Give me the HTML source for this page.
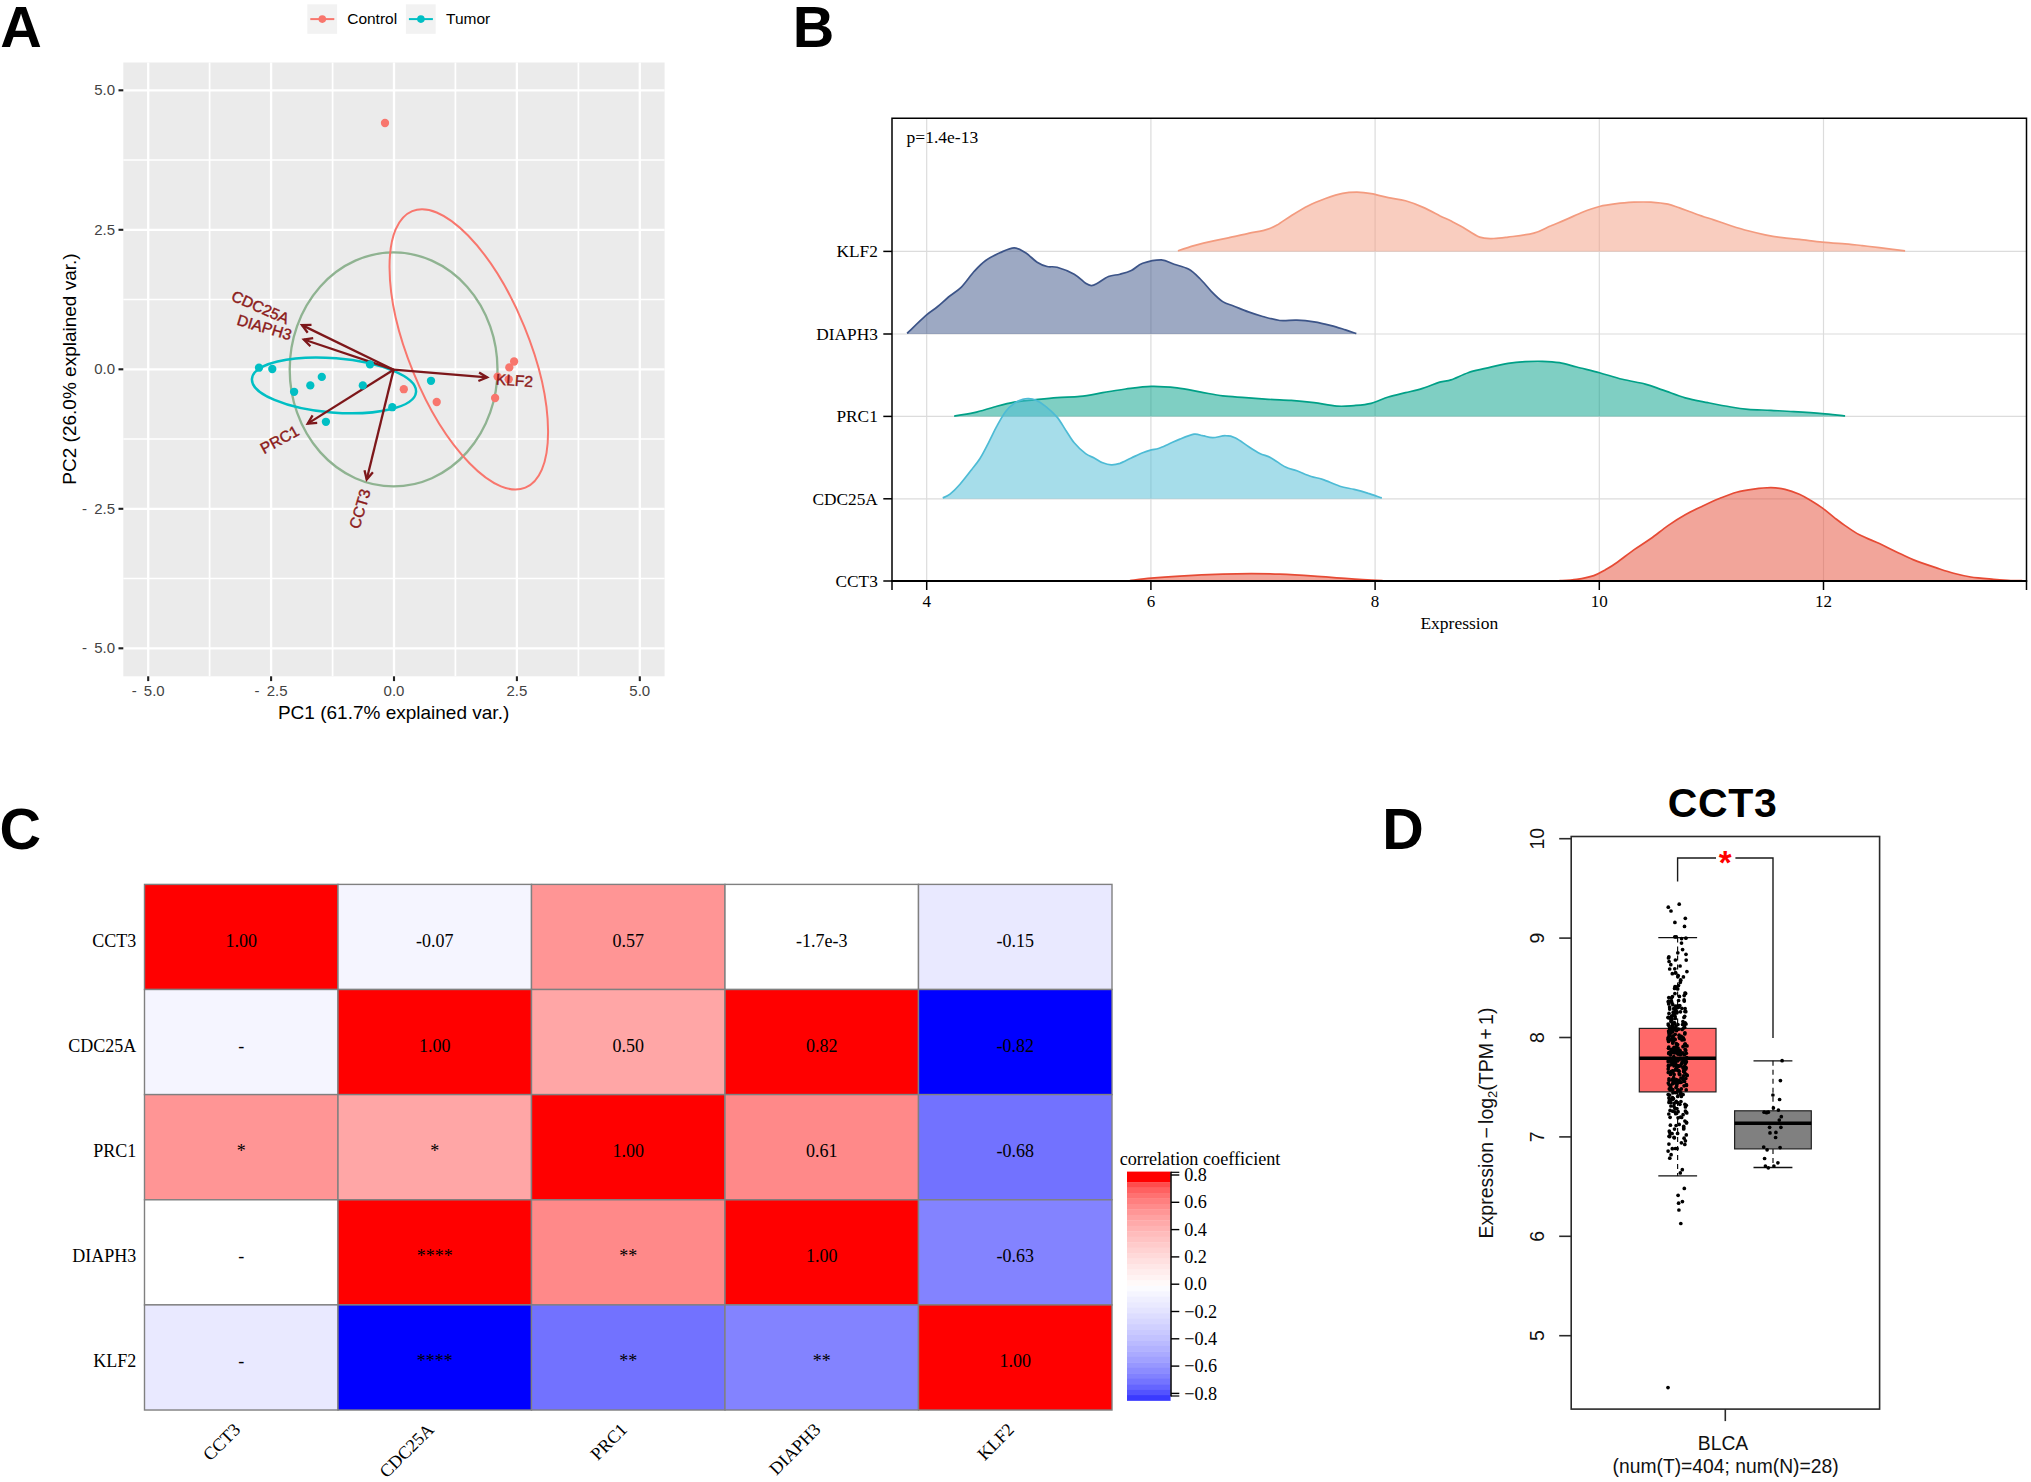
<!DOCTYPE html>
<html lang="en"><head><meta charset="utf-8"><title>Figure</title>
<style>html,body{margin:0;padding:0;background:#fff}svg{display:block}</style></head>
<body><svg width="2031" height="1482" viewBox="0 0 2031 1482">
<rect width="2031" height="1482" fill="#fff"/>
<rect x="123.3" y="62.5" width="541.3000000000001" height="613.8" fill="#ebebeb"/>
<line x1="209.6" y1="62.5" x2="209.6" y2="676.3" stroke="#fff" stroke-width="1.7"/>
<line x1="123.3" y1="160.1" x2="664.6" y2="160.1" stroke="#fff" stroke-width="1.5"/>
<line x1="332.6" y1="62.5" x2="332.6" y2="676.3" stroke="#fff" stroke-width="1.7"/>
<line x1="123.3" y1="299.6" x2="664.6" y2="299.6" stroke="#fff" stroke-width="1.5"/>
<line x1="455.4" y1="62.5" x2="455.4" y2="676.3" stroke="#fff" stroke-width="1.7"/>
<line x1="123.3" y1="439.1" x2="664.6" y2="439.1" stroke="#fff" stroke-width="1.5"/>
<line x1="578.4" y1="62.5" x2="578.4" y2="676.3" stroke="#fff" stroke-width="1.7"/>
<line x1="123.3" y1="578.5" x2="664.6" y2="578.5" stroke="#fff" stroke-width="1.5"/>
<line x1="148.2" y1="62.5" x2="148.2" y2="676.3" stroke="#fff" stroke-width="2.3"/>
<line x1="148.2" y1="676.3" x2="148.2" y2="681.0999999999999" stroke="#222" stroke-width="2.1"/>
<text x="148.2" y="696.3" text-anchor="middle" font-family='"Liberation Sans", Arial, sans-serif' font-size="15" fill="#434343">-  5.0</text>
<line x1="123.3" y1="648.3" x2="664.6" y2="648.3" stroke="#fff" stroke-width="2.3"/>
<line x1="118.5" y1="648.3" x2="123.3" y2="648.3" stroke="#222" stroke-width="2.1"/>
<text x="115" y="653.1" text-anchor="end" font-family='"Liberation Sans", Arial, sans-serif' font-size="15" fill="#434343">-  5.0</text>
<line x1="271.1" y1="62.5" x2="271.1" y2="676.3" stroke="#fff" stroke-width="2.3"/>
<line x1="271.1" y1="676.3" x2="271.1" y2="681.0999999999999" stroke="#222" stroke-width="2.1"/>
<text x="271.1" y="696.3" text-anchor="middle" font-family='"Liberation Sans", Arial, sans-serif' font-size="15" fill="#434343">-  2.5</text>
<line x1="123.3" y1="508.8" x2="664.6" y2="508.8" stroke="#fff" stroke-width="2.3"/>
<line x1="118.5" y1="508.8" x2="123.3" y2="508.8" stroke="#222" stroke-width="2.1"/>
<text x="115" y="513.6" text-anchor="end" font-family='"Liberation Sans", Arial, sans-serif' font-size="15" fill="#434343">-  2.5</text>
<line x1="394.0" y1="62.5" x2="394.0" y2="676.3" stroke="#fff" stroke-width="2.3"/>
<line x1="394.0" y1="676.3" x2="394.0" y2="681.0999999999999" stroke="#222" stroke-width="2.1"/>
<text x="394.0" y="696.3" text-anchor="middle" font-family='"Liberation Sans", Arial, sans-serif' font-size="15" fill="#434343">0.0</text>
<line x1="123.3" y1="369.3" x2="664.6" y2="369.3" stroke="#fff" stroke-width="2.3"/>
<line x1="118.5" y1="369.3" x2="123.3" y2="369.3" stroke="#222" stroke-width="2.1"/>
<text x="115" y="374.1" text-anchor="end" font-family='"Liberation Sans", Arial, sans-serif' font-size="15" fill="#434343">0.0</text>
<line x1="516.9" y1="62.5" x2="516.9" y2="676.3" stroke="#fff" stroke-width="2.3"/>
<line x1="516.9" y1="676.3" x2="516.9" y2="681.0999999999999" stroke="#222" stroke-width="2.1"/>
<text x="516.9" y="696.3" text-anchor="middle" font-family='"Liberation Sans", Arial, sans-serif' font-size="15" fill="#434343">2.5</text>
<line x1="123.3" y1="229.8" x2="664.6" y2="229.8" stroke="#fff" stroke-width="2.3"/>
<line x1="118.5" y1="229.8" x2="123.3" y2="229.8" stroke="#222" stroke-width="2.1"/>
<text x="115" y="234.6" text-anchor="end" font-family='"Liberation Sans", Arial, sans-serif' font-size="15" fill="#434343">2.5</text>
<line x1="639.8" y1="62.5" x2="639.8" y2="676.3" stroke="#fff" stroke-width="2.3"/>
<line x1="639.8" y1="676.3" x2="639.8" y2="681.0999999999999" stroke="#222" stroke-width="2.1"/>
<text x="639.8" y="696.3" text-anchor="middle" font-family='"Liberation Sans", Arial, sans-serif' font-size="15" fill="#434343">5.0</text>
<line x1="123.3" y1="90.3" x2="664.6" y2="90.3" stroke="#fff" stroke-width="2.3"/>
<line x1="118.5" y1="90.3" x2="123.3" y2="90.3" stroke="#222" stroke-width="2.1"/>
<text x="115" y="95.1" text-anchor="end" font-family='"Liberation Sans", Arial, sans-serif' font-size="15" fill="#434343">5.0</text>
<text x="393.6" y="718.5" text-anchor="middle" font-family='"Liberation Sans", Arial, sans-serif' font-size="19" fill="#000">PC1 (61.7% explained var.)</text>
<text transform="translate(76.4,369) rotate(-90)" text-anchor="middle" font-family='"Liberation Sans", Arial, sans-serif' font-size="19" fill="#000">PC2 (26.0% explained var.)</text>
<rect x="307.3" y="4.3" width="29.8" height="29.5" fill="#f2f2f2"/>
<line x1="310.3" y1="19.1" x2="334.3" y2="19.1" stroke="#F8766D" stroke-width="2"/>
<circle cx="322.3" cy="19.1" r="3.8" fill="#F8766D"/>
<text x="347.2" y="24.1" font-family='"Liberation Sans", Arial, sans-serif' font-size="15.5" fill="#000">Control</text>
<rect x="405.9" y="4.3" width="29.8" height="29.5" fill="#f2f2f2"/>
<line x1="408.9" y1="19.1" x2="432.9" y2="19.1" stroke="#00BFC4" stroke-width="2"/>
<circle cx="420.9" cy="19.1" r="3.8" fill="#00BFC4"/>
<text x="446" y="24.1" font-family='"Liberation Sans", Arial, sans-serif' font-size="15.5" fill="#000">Tumor</text>
<ellipse cx="393.6" cy="369.4" rx="103.9" ry="117" fill="none" stroke="#8fb391" stroke-width="2.3"/>
<ellipse cx="468.8" cy="349.4" rx="149.4" ry="60" transform="rotate(67.75 468.8 349.4)" fill="none" stroke="#F8766D" stroke-width="2"/>
<ellipse cx="334" cy="385.4" rx="82.3" ry="27.2" transform="rotate(4.6 334 385.4)" fill="none" stroke="#00BFC4" stroke-width="2.5"/>
<line x1="393.6" y1="369.7" x2="302" y2="325.1" stroke="#7d171a" stroke-width="2.3"/>
<polyline points="311.5,324.9 302,325.1 307.7,332.7" fill="none" stroke="#7d171a" stroke-width="2.3" stroke-linejoin="miter"/>
<line x1="393.6" y1="369.7" x2="303.8" y2="339.5" stroke="#7d171a" stroke-width="2.3"/>
<polyline points="313.2,338.1 303.8,339.5 310.4,346.3" fill="none" stroke="#7d171a" stroke-width="2.3" stroke-linejoin="miter"/>
<line x1="393.6" y1="369.7" x2="487.2" y2="377.4" stroke="#7d171a" stroke-width="2.3"/>
<polyline points="478.4,381.0 487.2,377.4 479.1,372.4" fill="none" stroke="#7d171a" stroke-width="2.3" stroke-linejoin="miter"/>
<line x1="393.6" y1="369.7" x2="307.7" y2="423.6" stroke="#7d171a" stroke-width="2.3"/>
<polyline points="312.6,415.4 307.7,423.6 317.2,422.8" fill="none" stroke="#7d171a" stroke-width="2.3" stroke-linejoin="miter"/>
<line x1="393.6" y1="369.7" x2="366.7" y2="479.5" stroke="#7d171a" stroke-width="2.3"/>
<polyline points="364.5,470.3 366.7,479.5 372.9,472.3" fill="none" stroke="#7d171a" stroke-width="2.3" stroke-linejoin="miter"/>
<circle cx="259" cy="367.7" r="4.15" fill="#00BFC4"/>
<circle cx="272.3" cy="369" r="4.15" fill="#00BFC4"/>
<circle cx="321.8" cy="376.9" r="4.15" fill="#00BFC4"/>
<circle cx="310.3" cy="385.4" r="4.15" fill="#00BFC4"/>
<circle cx="294.1" cy="391.8" r="4.15" fill="#00BFC4"/>
<circle cx="370" cy="364.4" r="4.15" fill="#00BFC4"/>
<circle cx="362.8" cy="385.4" r="4.15" fill="#00BFC4"/>
<circle cx="392.3" cy="407.2" r="4.15" fill="#00BFC4"/>
<circle cx="325.9" cy="421.8" r="4.15" fill="#00BFC4"/>
<circle cx="431" cy="380.8" r="4.15" fill="#00BFC4"/>
<circle cx="403.8" cy="389.2" r="4.15" fill="#F8766D"/>
<circle cx="436.7" cy="402" r="4.15" fill="#F8766D"/>
<circle cx="495.1" cy="398" r="4.15" fill="#F8766D"/>
<circle cx="497.6" cy="376.6" r="4.15" fill="#F8766D"/>
<circle cx="508.7" cy="379.3" r="4.15" fill="#F8766D"/>
<circle cx="509.3" cy="367.4" r="4.15" fill="#F8766D"/>
<circle cx="514.1" cy="361.5" r="4.15" fill="#F8766D"/>
<circle cx="385" cy="123" r="4.15" fill="#F8766D"/>
<text transform="translate(230.2,300) rotate(23.6)" text-anchor="start" font-family='"Liberation Sans", Arial, sans-serif' font-size="15.5" fill="#8b1a1a" stroke="#8b1a1a" stroke-width="0.4">CDC25A</text>
<text transform="translate(236,324.5) rotate(16.5)" text-anchor="start" font-family='"Liberation Sans", Arial, sans-serif' font-size="15.5" fill="#8b1a1a" stroke="#8b1a1a" stroke-width="0.4">DIAPH3</text>
<text transform="translate(495.6,384.4) rotate(4.1)" text-anchor="start" font-family='"Liberation Sans", Arial, sans-serif' font-size="15.5" fill="#8b1a1a" stroke="#8b1a1a" stroke-width="0.4">KLF2</text>
<text transform="translate(264.1,454.2) rotate(-28.9)" text-anchor="start" font-family='"Liberation Sans", Arial, sans-serif' font-size="15.5" fill="#8b1a1a" stroke="#8b1a1a" stroke-width="0.4">PRC1</text>
<text transform="translate(359.3,529.8) rotate(-73.5)" text-anchor="start" font-family='"Liberation Sans", Arial, sans-serif' font-size="15.5" fill="#8b1a1a" stroke="#8b1a1a" stroke-width="0.4">CCT3</text>
<text x="0.2" y="47.4" font-family='"Liberation Sans", Arial, sans-serif' font-weight="700" font-size="57.5" fill="#000">A</text>
<rect x="892.0" y="118.3" width="1134.5" height="462.7" fill="#fff"/>
<line x1="926.7" y1="118.3" x2="926.7" y2="581.0" stroke="#dcdcdc" stroke-width="1.2"/>
<line x1="1150.9" y1="118.3" x2="1150.9" y2="581.0" stroke="#dcdcdc" stroke-width="1.2"/>
<line x1="1375.1" y1="118.3" x2="1375.1" y2="581.0" stroke="#dcdcdc" stroke-width="1.2"/>
<line x1="1599.3" y1="118.3" x2="1599.3" y2="581.0" stroke="#dcdcdc" stroke-width="1.2"/>
<line x1="1823.5" y1="118.3" x2="1823.5" y2="581.0" stroke="#dcdcdc" stroke-width="1.2"/>
<line x1="892.0" y1="251.4" x2="2026.5" y2="251.4" stroke="#dcdcdc" stroke-width="1.2"/>
<line x1="892.0" y1="334.0" x2="2026.5" y2="334.0" stroke="#dcdcdc" stroke-width="1.2"/>
<line x1="892.0" y1="416.4" x2="2026.5" y2="416.4" stroke="#dcdcdc" stroke-width="1.2"/>
<line x1="892.0" y1="498.8" x2="2026.5" y2="498.8" stroke="#dcdcdc" stroke-width="1.2"/>
<path d="M1177.9,250.8 C1180.6,249.9 1188.6,247.2 1194.1,245.6 C1199.7,244.1 1205.6,242.6 1211.3,241.4 C1217.0,240.1 1222.2,239.3 1228.4,237.9 C1234.6,236.6 1242.2,234.7 1248.4,233.4 C1254.6,232.0 1260.8,231.3 1265.5,229.9 C1270.3,228.6 1272.7,227.5 1277.0,225.1 C1281.2,222.7 1286.0,218.9 1291.2,215.7 C1296.5,212.4 1302.7,208.5 1308.4,205.7 C1314.1,202.8 1319.8,200.6 1325.5,198.5 C1331.2,196.5 1337.4,194.4 1342.6,193.4 C1347.9,192.3 1352.2,192.2 1356.9,192.2 C1361.7,192.3 1366.0,192.8 1371.2,193.7 C1376.4,194.6 1382.6,196.5 1388.3,197.7 C1394.0,198.9 1399.7,199.2 1405.5,200.8 C1411.2,202.4 1416.9,204.6 1422.6,207.1 C1428.3,209.6 1435.0,213.3 1439.7,215.7 C1444.5,218.0 1447.4,219.2 1451.2,221.1 C1454.9,223.0 1457.7,224.4 1462.4,227.1 C1467.2,229.7 1474.3,235.2 1479.6,237.1 C1484.8,239.0 1489.1,238.5 1493.8,238.5 C1498.6,238.5 1501.5,238.0 1508.1,237.1 C1514.8,236.2 1526.7,235.0 1533.8,233.1 C1541.0,231.2 1545.7,227.8 1551.0,225.7 C1556.2,223.5 1560.0,222.2 1565.2,219.9 C1570.5,217.7 1576.7,214.5 1582.4,212.2 C1588.1,210.0 1593.8,207.9 1599.5,206.5 C1605.2,205.1 1610.9,204.4 1616.6,203.7 C1622.3,202.9 1628.1,202.5 1633.8,202.2 C1639.5,202.0 1645.2,201.9 1650.9,202.2 C1656.6,202.6 1663.3,203.3 1668.0,204.2 C1672.8,205.2 1674.7,206.3 1679.5,207.9 C1684.2,209.6 1690.9,212.2 1696.6,214.2 C1702.3,216.2 1708.0,218.0 1713.7,219.9 C1719.4,221.8 1725.2,223.8 1730.9,225.7 C1736.6,227.5 1742.3,229.3 1748.0,230.8 C1753.7,232.3 1759.4,233.6 1765.1,234.8 C1770.8,235.9 1776.6,236.9 1782.3,237.6 C1788.0,238.4 1792.7,238.6 1799.4,239.4 C1806.1,240.1 1814.6,241.5 1822.2,242.2 C1829.9,243.0 1838.4,243.4 1845.1,243.9 C1851.8,244.5 1856.5,245.0 1862.2,245.6 C1867.9,246.3 1872.2,246.8 1879.4,247.6 C1886.5,248.5 1900.8,250.3 1905.1,250.8 L1905.1,251.4 L1177.9,251.4 Z" fill="#F39B7F" fill-opacity="0.5" stroke="none"/>
<path d="M1177.9,250.8 C1180.6,249.9 1188.6,247.2 1194.1,245.6 C1199.7,244.1 1205.6,242.6 1211.3,241.4 C1217.0,240.1 1222.2,239.3 1228.4,237.9 C1234.6,236.6 1242.2,234.7 1248.4,233.4 C1254.6,232.0 1260.8,231.3 1265.5,229.9 C1270.3,228.6 1272.7,227.5 1277.0,225.1 C1281.2,222.7 1286.0,218.9 1291.2,215.7 C1296.5,212.4 1302.7,208.5 1308.4,205.7 C1314.1,202.8 1319.8,200.6 1325.5,198.5 C1331.2,196.5 1337.4,194.4 1342.6,193.4 C1347.9,192.3 1352.2,192.2 1356.9,192.2 C1361.7,192.3 1366.0,192.8 1371.2,193.7 C1376.4,194.6 1382.6,196.5 1388.3,197.7 C1394.0,198.9 1399.7,199.2 1405.5,200.8 C1411.2,202.4 1416.9,204.6 1422.6,207.1 C1428.3,209.6 1435.0,213.3 1439.7,215.7 C1444.5,218.0 1447.4,219.2 1451.2,221.1 C1454.9,223.0 1457.7,224.4 1462.4,227.1 C1467.2,229.7 1474.3,235.2 1479.6,237.1 C1484.8,239.0 1489.1,238.5 1493.8,238.5 C1498.6,238.5 1501.5,238.0 1508.1,237.1 C1514.8,236.2 1526.7,235.0 1533.8,233.1 C1541.0,231.2 1545.7,227.8 1551.0,225.7 C1556.2,223.5 1560.0,222.2 1565.2,219.9 C1570.5,217.7 1576.7,214.5 1582.4,212.2 C1588.1,210.0 1593.8,207.9 1599.5,206.5 C1605.2,205.1 1610.9,204.4 1616.6,203.7 C1622.3,202.9 1628.1,202.5 1633.8,202.2 C1639.5,202.0 1645.2,201.9 1650.9,202.2 C1656.6,202.6 1663.3,203.3 1668.0,204.2 C1672.8,205.2 1674.7,206.3 1679.5,207.9 C1684.2,209.6 1690.9,212.2 1696.6,214.2 C1702.3,216.2 1708.0,218.0 1713.7,219.9 C1719.4,221.8 1725.2,223.8 1730.9,225.7 C1736.6,227.5 1742.3,229.3 1748.0,230.8 C1753.7,232.3 1759.4,233.6 1765.1,234.8 C1770.8,235.9 1776.6,236.9 1782.3,237.6 C1788.0,238.4 1792.7,238.6 1799.4,239.4 C1806.1,240.1 1814.6,241.5 1822.2,242.2 C1829.9,243.0 1838.4,243.4 1845.1,243.9 C1851.8,244.5 1856.5,245.0 1862.2,245.6 C1867.9,246.3 1872.2,246.8 1879.4,247.6 C1886.5,248.5 1900.8,250.3 1905.1,250.8" fill="none" stroke="#F39B7F" stroke-width="1.7"/>
<path d="M907.1,333.3 C910.2,330.4 920.7,320.0 925.7,315.6 C930.7,311.2 933.3,310.1 937.1,307.0 C940.9,303.9 944.5,300.4 948.5,297.0 C952.6,293.7 957.1,291.3 961.4,287.1 C965.7,282.8 970.2,275.8 974.2,271.3 C978.3,266.9 981.4,263.6 985.7,260.5 C989.9,257.4 995.2,254.9 999.9,252.8 C1004.7,250.7 1009.9,247.9 1014.2,247.9 C1018.5,247.9 1021.8,250.4 1025.6,252.8 C1029.5,255.2 1033.5,259.9 1037.1,262.2 C1040.6,264.5 1043.7,265.6 1047.1,266.5 C1050.4,267.3 1052.5,266.1 1057.1,267.3 C1061.6,268.6 1069.4,271.5 1074.2,274.2 C1079.0,276.9 1082.8,281.4 1085.6,283.3 C1088.5,285.2 1089.4,285.6 1091.3,285.6 C1093.2,285.7 1094.2,285.1 1097.0,283.6 C1099.9,282.1 1104.7,278.1 1108.5,276.5 C1112.3,274.9 1116.1,275.2 1119.9,274.2 C1123.7,273.2 1127.5,272.3 1131.3,270.5 C1135.1,268.7 1137.7,265.1 1142.7,263.3 C1147.7,261.6 1156.1,259.8 1161.3,259.9 C1166.5,260.1 1169.6,262.7 1174.1,264.2 C1178.7,265.7 1184.1,266.7 1188.4,269.1 C1192.7,271.4 1196.0,274.8 1199.8,278.5 C1203.7,282.2 1207.5,287.5 1211.3,291.3 C1215.1,295.2 1218.9,299.1 1222.7,301.6 C1226.5,304.1 1229.8,304.5 1234.1,306.2 C1238.4,307.9 1243.6,310.2 1248.4,311.9 C1253.2,313.6 1257.4,315.0 1262.7,316.5 C1267.9,317.9 1274.1,319.8 1279.8,320.5 C1285.5,321.1 1291.2,319.9 1296.9,320.2 C1302.7,320.4 1308.4,321.0 1314.1,321.9 C1319.8,322.8 1326.0,324.3 1331.2,325.6 C1336.4,326.9 1341.3,328.6 1345.5,329.9 C1349.7,331.2 1354.5,333.0 1356.3,333.6 L1356.3,334.0 L907.1,334.0 Z" fill="#3C5488" fill-opacity="0.5" stroke="none"/>
<path d="M907.1,333.3 C910.2,330.4 920.7,320.0 925.7,315.6 C930.7,311.2 933.3,310.1 937.1,307.0 C940.9,303.9 944.5,300.4 948.5,297.0 C952.6,293.7 957.1,291.3 961.4,287.1 C965.7,282.8 970.2,275.8 974.2,271.3 C978.3,266.9 981.4,263.6 985.7,260.5 C989.9,257.4 995.2,254.9 999.9,252.8 C1004.7,250.7 1009.9,247.9 1014.2,247.9 C1018.5,247.9 1021.8,250.4 1025.6,252.8 C1029.5,255.2 1033.5,259.9 1037.1,262.2 C1040.6,264.5 1043.7,265.6 1047.1,266.5 C1050.4,267.3 1052.5,266.1 1057.1,267.3 C1061.6,268.6 1069.4,271.5 1074.2,274.2 C1079.0,276.9 1082.8,281.4 1085.6,283.3 C1088.5,285.2 1089.4,285.6 1091.3,285.6 C1093.2,285.7 1094.2,285.1 1097.0,283.6 C1099.9,282.1 1104.7,278.1 1108.5,276.5 C1112.3,274.9 1116.1,275.2 1119.9,274.2 C1123.7,273.2 1127.5,272.3 1131.3,270.5 C1135.1,268.7 1137.7,265.1 1142.7,263.3 C1147.7,261.6 1156.1,259.8 1161.3,259.9 C1166.5,260.1 1169.6,262.7 1174.1,264.2 C1178.7,265.7 1184.1,266.7 1188.4,269.1 C1192.7,271.4 1196.0,274.8 1199.8,278.5 C1203.7,282.2 1207.5,287.5 1211.3,291.3 C1215.1,295.2 1218.9,299.1 1222.7,301.6 C1226.5,304.1 1229.8,304.5 1234.1,306.2 C1238.4,307.9 1243.6,310.2 1248.4,311.9 C1253.2,313.6 1257.4,315.0 1262.7,316.5 C1267.9,317.9 1274.1,319.8 1279.8,320.5 C1285.5,321.1 1291.2,319.9 1296.9,320.2 C1302.7,320.4 1308.4,321.0 1314.1,321.9 C1319.8,322.8 1326.0,324.3 1331.2,325.6 C1336.4,326.9 1341.3,328.6 1345.5,329.9 C1349.7,331.2 1354.5,333.0 1356.3,333.6" fill="none" stroke="#3C5488" stroke-width="1.7"/>
<path d="M954.2,416.1 C957.6,415.6 967.6,414.2 974.2,412.7 C980.9,411.2 987.6,408.8 994.2,407.0 C1000.9,405.2 1007.6,403.3 1014.2,402.1 C1020.9,400.9 1027.1,400.6 1034.2,399.9 C1041.4,399.1 1049.4,398.1 1057.1,397.6 C1064.7,397.0 1072.3,397.2 1079.9,396.4 C1087.5,395.6 1095.1,394.0 1102.7,392.7 C1110.4,391.5 1117.5,390.0 1125.6,389.0 C1133.7,388.0 1142.7,386.6 1151.3,386.4 C1159.9,386.2 1168.9,387.0 1177.0,387.9 C1185.1,388.8 1192.2,390.5 1199.8,391.9 C1207.5,393.2 1215.1,394.9 1222.7,395.9 C1230.3,396.8 1237.9,397.0 1245.5,397.6 C1253.2,398.1 1260.8,398.8 1268.4,399.3 C1276.0,399.8 1283.6,399.9 1291.2,400.4 C1298.8,401.0 1306.5,401.8 1314.1,402.7 C1321.7,403.7 1330.3,405.7 1336.9,406.1 C1343.6,406.6 1348.3,406.0 1354.1,405.6 C1359.8,405.1 1365.5,404.7 1371.2,403.3 C1376.9,401.9 1382.6,398.8 1388.3,397.0 C1394.0,395.2 1399.7,394.1 1405.5,392.7 C1411.2,391.3 1416.9,390.2 1422.6,388.4 C1428.3,386.7 1435.0,383.6 1439.7,382.1 C1444.5,380.7 1446.3,381.4 1451.0,379.9 C1455.7,378.3 1462.4,374.6 1468.1,372.7 C1473.8,370.8 1478.6,370.0 1485.3,368.4 C1491.9,366.9 1501.5,364.4 1508.1,363.3 C1514.8,362.2 1519.5,361.9 1525.2,361.6 C1531.0,361.3 1536.7,361.1 1542.4,361.3 C1548.1,361.5 1553.8,361.8 1559.5,362.7 C1565.2,363.7 1570.0,365.3 1576.7,367.0 C1583.3,368.7 1591.9,370.7 1599.5,372.7 C1607.1,374.8 1614.7,377.4 1622.3,379.3 C1630.0,381.2 1638.5,382.4 1645.2,384.1 C1651.9,385.9 1655.7,387.6 1662.3,389.9 C1669.0,392.1 1677.6,395.7 1685.2,397.9 C1692.8,400.0 1700.4,401.2 1708.0,402.7 C1715.6,404.2 1724.2,405.9 1730.9,407.0 C1737.5,408.1 1741.3,408.7 1748.0,409.3 C1754.7,409.8 1763.2,410.0 1770.8,410.4 C1778.5,410.8 1785.1,411.0 1793.7,411.6 C1802.3,412.1 1813.7,412.8 1822.2,413.6 C1830.8,414.3 1841.3,415.5 1845.1,415.8 L1845.1,416.4 L954.2,416.4 Z" fill="#00A087" fill-opacity="0.5" stroke="none"/>
<path d="M954.2,416.1 C957.6,415.6 967.6,414.2 974.2,412.7 C980.9,411.2 987.6,408.8 994.2,407.0 C1000.9,405.2 1007.6,403.3 1014.2,402.1 C1020.9,400.9 1027.1,400.6 1034.2,399.9 C1041.4,399.1 1049.4,398.1 1057.1,397.6 C1064.7,397.0 1072.3,397.2 1079.9,396.4 C1087.5,395.6 1095.1,394.0 1102.7,392.7 C1110.4,391.5 1117.5,390.0 1125.6,389.0 C1133.7,388.0 1142.7,386.6 1151.3,386.4 C1159.9,386.2 1168.9,387.0 1177.0,387.9 C1185.1,388.8 1192.2,390.5 1199.8,391.9 C1207.5,393.2 1215.1,394.9 1222.7,395.9 C1230.3,396.8 1237.9,397.0 1245.5,397.6 C1253.2,398.1 1260.8,398.8 1268.4,399.3 C1276.0,399.8 1283.6,399.9 1291.2,400.4 C1298.8,401.0 1306.5,401.8 1314.1,402.7 C1321.7,403.7 1330.3,405.7 1336.9,406.1 C1343.6,406.6 1348.3,406.0 1354.1,405.6 C1359.8,405.1 1365.5,404.7 1371.2,403.3 C1376.9,401.9 1382.6,398.8 1388.3,397.0 C1394.0,395.2 1399.7,394.1 1405.5,392.7 C1411.2,391.3 1416.9,390.2 1422.6,388.4 C1428.3,386.7 1435.0,383.6 1439.7,382.1 C1444.5,380.7 1446.3,381.4 1451.0,379.9 C1455.7,378.3 1462.4,374.6 1468.1,372.7 C1473.8,370.8 1478.6,370.0 1485.3,368.4 C1491.9,366.9 1501.5,364.4 1508.1,363.3 C1514.8,362.2 1519.5,361.9 1525.2,361.6 C1531.0,361.3 1536.7,361.1 1542.4,361.3 C1548.1,361.5 1553.8,361.8 1559.5,362.7 C1565.2,363.7 1570.0,365.3 1576.7,367.0 C1583.3,368.7 1591.9,370.7 1599.5,372.7 C1607.1,374.8 1614.7,377.4 1622.3,379.3 C1630.0,381.2 1638.5,382.4 1645.2,384.1 C1651.9,385.9 1655.7,387.6 1662.3,389.9 C1669.0,392.1 1677.6,395.7 1685.2,397.9 C1692.8,400.0 1700.4,401.2 1708.0,402.7 C1715.6,404.2 1724.2,405.9 1730.9,407.0 C1737.5,408.1 1741.3,408.7 1748.0,409.3 C1754.7,409.8 1763.2,410.0 1770.8,410.4 C1778.5,410.8 1785.1,411.0 1793.7,411.6 C1802.3,412.1 1813.7,412.8 1822.2,413.6 C1830.8,414.3 1841.3,415.5 1845.1,415.8" fill="none" stroke="#00A087" stroke-width="1.7"/>
<path d="M942.8,497.9 C944.0,497.3 947.1,496.5 950.0,494.2 C952.8,491.9 956.4,488.3 960.0,484.2 C963.5,480.2 968.1,474.2 971.4,469.9 C974.7,465.7 977.1,463.0 980.0,458.5 C982.8,454.0 985.7,448.3 988.5,442.8 C991.4,437.3 994.2,430.9 997.1,425.7 C999.9,420.4 1002.8,415.1 1005.7,411.4 C1008.5,407.7 1011.4,405.4 1014.2,403.4 C1017.1,401.4 1020.4,400.2 1022.8,399.4 C1025.2,398.6 1026.4,398.4 1028.5,398.5 C1030.6,398.6 1032.8,398.7 1035.6,400.0 C1038.5,401.3 1042.1,403.4 1045.6,406.3 C1049.2,409.1 1053.7,413.2 1057.1,417.1 C1060.4,421.1 1062.8,425.7 1065.6,430.0 C1068.5,434.2 1070.9,438.9 1074.2,442.8 C1077.5,446.8 1082.3,451.1 1085.6,453.7 C1088.9,456.2 1091.3,456.4 1094.2,457.9 C1097.0,459.5 1099.9,461.7 1102.7,462.8 C1105.6,463.9 1108.5,464.7 1111.3,464.8 C1114.2,464.9 1116.6,464.5 1119.9,463.4 C1123.2,462.2 1127.5,459.7 1131.3,457.9 C1135.1,456.2 1139.4,454.1 1142.7,452.8 C1146.1,451.5 1148.7,450.7 1151.3,449.9 C1153.9,449.2 1155.6,449.5 1158.4,448.5 C1161.3,447.6 1164.9,445.8 1168.4,444.2 C1172.0,442.7 1175.6,440.8 1179.9,439.1 C1184.1,437.4 1190.3,434.8 1194.1,434.2 C1197.9,433.7 1199.6,435.1 1202.7,435.7 C1205.8,436.2 1208.9,437.7 1212.7,437.7 C1216.5,437.7 1221.7,435.6 1225.5,435.7 C1229.4,435.7 1231.7,436.1 1235.5,438.0 C1239.3,439.8 1244.3,443.9 1248.4,446.5 C1252.4,449.1 1256.0,451.5 1259.8,453.4 C1263.6,455.3 1267.0,455.7 1271.2,457.9 C1275.5,460.2 1281.2,464.9 1285.5,467.1 C1289.8,469.2 1292.7,469.2 1296.9,470.8 C1301.2,472.4 1306.9,475.1 1311.2,476.5 C1315.5,477.9 1317.9,477.7 1322.6,479.4 C1327.4,481.0 1334.5,484.5 1339.8,486.2 C1345.0,487.9 1349.3,488.2 1354.1,489.4 C1358.8,490.5 1363.7,491.9 1368.3,493.4 C1373.0,494.8 1379.5,497.2 1381.8,497.9 L1381.8,498.8 L942.8,498.8 Z" fill="#4DBBD5" fill-opacity="0.5" stroke="none"/>
<path d="M942.8,497.9 C944.0,497.3 947.1,496.5 950.0,494.2 C952.8,491.9 956.4,488.3 960.0,484.2 C963.5,480.2 968.1,474.2 971.4,469.9 C974.7,465.7 977.1,463.0 980.0,458.5 C982.8,454.0 985.7,448.3 988.5,442.8 C991.4,437.3 994.2,430.9 997.1,425.7 C999.9,420.4 1002.8,415.1 1005.7,411.4 C1008.5,407.7 1011.4,405.4 1014.2,403.4 C1017.1,401.4 1020.4,400.2 1022.8,399.4 C1025.2,398.6 1026.4,398.4 1028.5,398.5 C1030.6,398.6 1032.8,398.7 1035.6,400.0 C1038.5,401.3 1042.1,403.4 1045.6,406.3 C1049.2,409.1 1053.7,413.2 1057.1,417.1 C1060.4,421.1 1062.8,425.7 1065.6,430.0 C1068.5,434.2 1070.9,438.9 1074.2,442.8 C1077.5,446.8 1082.3,451.1 1085.6,453.7 C1088.9,456.2 1091.3,456.4 1094.2,457.9 C1097.0,459.5 1099.9,461.7 1102.7,462.8 C1105.6,463.9 1108.5,464.7 1111.3,464.8 C1114.2,464.9 1116.6,464.5 1119.9,463.4 C1123.2,462.2 1127.5,459.7 1131.3,457.9 C1135.1,456.2 1139.4,454.1 1142.7,452.8 C1146.1,451.5 1148.7,450.7 1151.3,449.9 C1153.9,449.2 1155.6,449.5 1158.4,448.5 C1161.3,447.6 1164.9,445.8 1168.4,444.2 C1172.0,442.7 1175.6,440.8 1179.9,439.1 C1184.1,437.4 1190.3,434.8 1194.1,434.2 C1197.9,433.7 1199.6,435.1 1202.7,435.7 C1205.8,436.2 1208.9,437.7 1212.7,437.7 C1216.5,437.7 1221.7,435.6 1225.5,435.7 C1229.4,435.7 1231.7,436.1 1235.5,438.0 C1239.3,439.8 1244.3,443.9 1248.4,446.5 C1252.4,449.1 1256.0,451.5 1259.8,453.4 C1263.6,455.3 1267.0,455.7 1271.2,457.9 C1275.5,460.2 1281.2,464.9 1285.5,467.1 C1289.8,469.2 1292.7,469.2 1296.9,470.8 C1301.2,472.4 1306.9,475.1 1311.2,476.5 C1315.5,477.9 1317.9,477.7 1322.6,479.4 C1327.4,481.0 1334.5,484.5 1339.8,486.2 C1345.0,487.9 1349.3,488.2 1354.1,489.4 C1358.8,490.5 1363.7,491.9 1368.3,493.4 C1373.0,494.8 1379.5,497.2 1381.8,497.9" fill="none" stroke="#4DBBD5" stroke-width="1.7"/>
<path d="M1129.9,580.7 C1133.4,580.3 1143.0,578.9 1151.3,578.2 C1159.6,577.4 1168.0,576.8 1179.9,576.2 C1191.8,575.5 1210.8,574.6 1222.7,574.2 C1234.6,573.7 1241.7,573.6 1251.2,573.6 C1260.8,573.6 1269.3,573.7 1279.8,574.2 C1290.3,574.6 1302.7,575.4 1314.1,576.2 C1325.5,576.9 1336.9,578.0 1348.3,578.7 C1359.8,579.5 1376.9,580.4 1382.6,580.7 L1382.6,581.0 L1129.9,581.0 Z" fill="#E64B35" fill-opacity="0.5" stroke="none"/>
<path d="M1129.9,580.7 C1133.4,580.3 1143.0,578.9 1151.3,578.2 C1159.6,577.4 1168.0,576.8 1179.9,576.2 C1191.8,575.5 1210.8,574.6 1222.7,574.2 C1234.6,573.7 1241.7,573.6 1251.2,573.6 C1260.8,573.6 1269.3,573.7 1279.8,574.2 C1290.3,574.6 1302.7,575.4 1314.1,576.2 C1325.5,576.9 1336.9,578.0 1348.3,578.7 C1359.8,579.5 1376.9,580.4 1382.6,580.7" fill="none" stroke="#E64B35" stroke-width="1.7"/>
<path d="M1559.5,580.7 C1562.4,580.5 1570.9,580.2 1576.7,579.3 C1582.4,578.5 1589.0,577.2 1593.8,575.6 C1598.5,574.0 1601.4,572.0 1605.2,569.9 C1609.0,567.7 1611.9,566.1 1616.6,562.7 C1621.4,559.4 1628.1,553.9 1633.8,549.9 C1639.5,545.9 1645.2,542.5 1650.9,538.5 C1656.6,534.4 1662.3,529.6 1668.0,525.6 C1673.7,521.7 1679.5,518.0 1685.2,514.8 C1690.9,511.5 1696.6,508.9 1702.3,506.2 C1708.0,503.5 1713.7,500.8 1719.4,498.5 C1725.2,496.2 1730.9,493.8 1736.6,492.2 C1742.3,490.6 1748.0,489.8 1753.7,489.1 C1759.4,488.3 1765.6,487.6 1770.8,487.6 C1776.1,487.7 1780.4,488.3 1785.1,489.4 C1789.9,490.5 1795.1,492.4 1799.4,494.2 C1803.7,496.1 1807.0,498.2 1810.8,500.5 C1814.6,502.8 1818.4,505.2 1822.2,507.9 C1826.1,510.7 1829.9,514.1 1833.7,517.1 C1837.5,520.0 1840.8,522.7 1845.1,525.6 C1849.4,528.6 1853.7,531.8 1859.4,534.8 C1865.1,537.8 1873.2,540.8 1879.4,543.6 C1885.6,546.5 1890.8,549.2 1896.5,551.9 C1902.2,554.6 1907.0,557.2 1913.6,559.9 C1920.3,562.6 1929.8,565.7 1936.5,567.9 C1943.1,570.1 1947.9,571.8 1953.6,573.3 C1959.3,574.8 1964.1,576.0 1970.7,577.0 C1977.4,578.0 1986.9,578.7 1993.6,579.3 C2000.3,579.9 2006.0,580.2 2010.7,580.5 C2015.5,580.7 2020.2,580.7 2022.2,580.7 L2022.2,581.0 L1559.5,581.0 Z" fill="#E64B35" fill-opacity="0.5" stroke="none"/>
<path d="M1559.5,580.7 C1562.4,580.5 1570.9,580.2 1576.7,579.3 C1582.4,578.5 1589.0,577.2 1593.8,575.6 C1598.5,574.0 1601.4,572.0 1605.2,569.9 C1609.0,567.7 1611.9,566.1 1616.6,562.7 C1621.4,559.4 1628.1,553.9 1633.8,549.9 C1639.5,545.9 1645.2,542.5 1650.9,538.5 C1656.6,534.4 1662.3,529.6 1668.0,525.6 C1673.7,521.7 1679.5,518.0 1685.2,514.8 C1690.9,511.5 1696.6,508.9 1702.3,506.2 C1708.0,503.5 1713.7,500.8 1719.4,498.5 C1725.2,496.2 1730.9,493.8 1736.6,492.2 C1742.3,490.6 1748.0,489.8 1753.7,489.1 C1759.4,488.3 1765.6,487.6 1770.8,487.6 C1776.1,487.7 1780.4,488.3 1785.1,489.4 C1789.9,490.5 1795.1,492.4 1799.4,494.2 C1803.7,496.1 1807.0,498.2 1810.8,500.5 C1814.6,502.8 1818.4,505.2 1822.2,507.9 C1826.1,510.7 1829.9,514.1 1833.7,517.1 C1837.5,520.0 1840.8,522.7 1845.1,525.6 C1849.4,528.6 1853.7,531.8 1859.4,534.8 C1865.1,537.8 1873.2,540.8 1879.4,543.6 C1885.6,546.5 1890.8,549.2 1896.5,551.9 C1902.2,554.6 1907.0,557.2 1913.6,559.9 C1920.3,562.6 1929.8,565.7 1936.5,567.9 C1943.1,570.1 1947.9,571.8 1953.6,573.3 C1959.3,574.8 1964.1,576.0 1970.7,577.0 C1977.4,578.0 1986.9,578.7 1993.6,579.3 C2000.3,579.9 2006.0,580.2 2010.7,580.5 C2015.5,580.7 2020.2,580.7 2022.2,580.7" fill="none" stroke="#E64B35" stroke-width="1.7"/>
<path d="M892.0,581.0 L892.0,118.3 L2026.5,118.3 L2026.5,581.0" fill="none" stroke="#000" stroke-width="1.5"/>
<line x1="891.3" y1="581.0" x2="2027.2" y2="581.0" stroke="#000" stroke-width="2.2"/>
<line x1="892.0" y1="581.0" x2="892.0" y2="590.0" stroke="#000" stroke-width="1.5"/>
<line x1="926.7" y1="581.0" x2="926.7" y2="590.0" stroke="#000" stroke-width="1.5"/>
<line x1="1150.9" y1="581.0" x2="1150.9" y2="590.0" stroke="#000" stroke-width="1.5"/>
<line x1="1375.1" y1="581.0" x2="1375.1" y2="590.0" stroke="#000" stroke-width="1.5"/>
<line x1="1599.3" y1="581.0" x2="1599.3" y2="590.0" stroke="#000" stroke-width="1.5"/>
<line x1="1823.5" y1="581.0" x2="1823.5" y2="590.0" stroke="#000" stroke-width="1.5"/>
<line x1="2026.5" y1="581.0" x2="2026.5" y2="590.0" stroke="#000" stroke-width="1.5"/>
<text x="926.7" y="607" text-anchor="middle" font-family='"Liberation Serif", "Times New Roman", serif' font-size="17" fill="#000">4</text>
<text x="1150.9" y="607" text-anchor="middle" font-family='"Liberation Serif", "Times New Roman", serif' font-size="17" fill="#000">6</text>
<text x="1375.1" y="607" text-anchor="middle" font-family='"Liberation Serif", "Times New Roman", serif' font-size="17" fill="#000">8</text>
<text x="1599.3" y="607" text-anchor="middle" font-family='"Liberation Serif", "Times New Roman", serif' font-size="17" fill="#000">10</text>
<text x="1823.5" y="607" text-anchor="middle" font-family='"Liberation Serif", "Times New Roman", serif' font-size="17" fill="#000">12</text>
<line x1="883.3" y1="251.4" x2="892.0" y2="251.4" stroke="#000" stroke-width="1.5"/>
<text x="877.8" y="257.2" text-anchor="end" font-family='"Liberation Serif", "Times New Roman", serif' font-size="17.3" fill="#000">KLF2</text>
<line x1="883.3" y1="334.0" x2="892.0" y2="334.0" stroke="#000" stroke-width="1.5"/>
<text x="877.8" y="339.8" text-anchor="end" font-family='"Liberation Serif", "Times New Roman", serif' font-size="17.3" fill="#000">DIAPH3</text>
<line x1="883.3" y1="416.4" x2="892.0" y2="416.4" stroke="#000" stroke-width="1.5"/>
<text x="877.8" y="422.2" text-anchor="end" font-family='"Liberation Serif", "Times New Roman", serif' font-size="17.3" fill="#000">PRC1</text>
<line x1="883.3" y1="498.8" x2="892.0" y2="498.8" stroke="#000" stroke-width="1.5"/>
<text x="877.8" y="504.6" text-anchor="end" font-family='"Liberation Serif", "Times New Roman", serif' font-size="17.3" fill="#000">CDC25A</text>
<line x1="883.3" y1="581.0" x2="892.0" y2="581.0" stroke="#000" stroke-width="1.5"/>
<text x="877.8" y="586.8" text-anchor="end" font-family='"Liberation Serif", "Times New Roman", serif' font-size="17.3" fill="#000">CCT3</text>
<text x="1459.3" y="629" text-anchor="middle" font-family='"Liberation Serif", "Times New Roman", serif' font-size="17.5" fill="#000">Expression</text>
<text x="906.6" y="143.4" font-family='"Liberation Serif", "Times New Roman", serif' font-size="17.5" fill="#000">p=1.4e-13</text>
<text x="792.7" y="47.4" font-family='"Liberation Sans", Arial, sans-serif' font-weight="700" font-size="57.5" fill="#000">B</text>
<rect x="144.5" y="884.4" width="193.5" height="105.12" fill="#ff0000" stroke="#808080" stroke-width="1.4"/>
<rect x="338.0" y="884.4" width="193.5" height="105.12" fill="#f5f5ff" stroke="#808080" stroke-width="1.4"/>
<rect x="531.5" y="884.4" width="193.5" height="105.12" fill="#ff9595" stroke="#808080" stroke-width="1.4"/>
<rect x="725.0" y="884.4" width="193.5" height="105.12" fill="#ffffff" stroke="#808080" stroke-width="1.4"/>
<rect x="918.5" y="884.4" width="193.5" height="105.12" fill="#e9e9ff" stroke="#808080" stroke-width="1.4"/>
<rect x="144.5" y="989.5" width="193.5" height="105.12" fill="#f5f5ff" stroke="#808080" stroke-width="1.4"/>
<rect x="338.0" y="989.5" width="193.5" height="105.12" fill="#ff0000" stroke="#808080" stroke-width="1.4"/>
<rect x="531.5" y="989.5" width="193.5" height="105.12" fill="#ffa6a6" stroke="#808080" stroke-width="1.4"/>
<rect x="725.0" y="989.5" width="193.5" height="105.12" fill="#ff0000" stroke="#808080" stroke-width="1.4"/>
<rect x="918.5" y="989.5" width="193.5" height="105.12" fill="#0000ff" stroke="#808080" stroke-width="1.4"/>
<rect x="144.5" y="1094.6" width="193.5" height="105.12" fill="#ff9595" stroke="#808080" stroke-width="1.4"/>
<rect x="338.0" y="1094.6" width="193.5" height="105.12" fill="#ffa6a6" stroke="#808080" stroke-width="1.4"/>
<rect x="531.5" y="1094.6" width="193.5" height="105.12" fill="#ff0000" stroke="#808080" stroke-width="1.4"/>
<rect x="725.0" y="1094.6" width="193.5" height="105.12" fill="#ff8989" stroke="#808080" stroke-width="1.4"/>
<rect x="918.5" y="1094.6" width="193.5" height="105.12" fill="#7272ff" stroke="#808080" stroke-width="1.4"/>
<rect x="144.5" y="1199.8" width="193.5" height="105.12" fill="#ffffff" stroke="#808080" stroke-width="1.4"/>
<rect x="338.0" y="1199.8" width="193.5" height="105.12" fill="#ff0000" stroke="#808080" stroke-width="1.4"/>
<rect x="531.5" y="1199.8" width="193.5" height="105.12" fill="#ff8989" stroke="#808080" stroke-width="1.4"/>
<rect x="725.0" y="1199.8" width="193.5" height="105.12" fill="#ff0000" stroke="#808080" stroke-width="1.4"/>
<rect x="918.5" y="1199.8" width="193.5" height="105.12" fill="#8383ff" stroke="#808080" stroke-width="1.4"/>
<rect x="144.5" y="1304.9" width="193.5" height="105.12" fill="#e9e9ff" stroke="#808080" stroke-width="1.4"/>
<rect x="338.0" y="1304.9" width="193.5" height="105.12" fill="#0000ff" stroke="#808080" stroke-width="1.4"/>
<rect x="531.5" y="1304.9" width="193.5" height="105.12" fill="#7272ff" stroke="#808080" stroke-width="1.4"/>
<rect x="725.0" y="1304.9" width="193.5" height="105.12" fill="#8383ff" stroke="#808080" stroke-width="1.4"/>
<rect x="918.5" y="1304.9" width="193.5" height="105.12" fill="#ff0000" stroke="#808080" stroke-width="1.4"/>
<text x="241.2" y="947.0" text-anchor="middle" font-family='"Liberation Serif", "Times New Roman", serif' font-size="18" fill="#000">1.00</text>
<text x="434.8" y="947.0" text-anchor="middle" font-family='"Liberation Serif", "Times New Roman", serif' font-size="18" fill="#000">-0.07</text>
<text x="628.2" y="947.0" text-anchor="middle" font-family='"Liberation Serif", "Times New Roman", serif' font-size="18" fill="#000">0.57</text>
<text x="821.8" y="947.0" text-anchor="middle" font-family='"Liberation Serif", "Times New Roman", serif' font-size="18" fill="#000">-1.7e-3</text>
<text x="1015.2" y="947.0" text-anchor="middle" font-family='"Liberation Serif", "Times New Roman", serif' font-size="18" fill="#000">-0.15</text>
<text x="241.2" y="1052.1" text-anchor="middle" font-family='"Liberation Serif", "Times New Roman", serif' font-size="18" fill="#000">-</text>
<text x="434.8" y="1052.1" text-anchor="middle" font-family='"Liberation Serif", "Times New Roman", serif' font-size="18" fill="#000">1.00</text>
<text x="628.2" y="1052.1" text-anchor="middle" font-family='"Liberation Serif", "Times New Roman", serif' font-size="18" fill="#000">0.50</text>
<text x="821.8" y="1052.1" text-anchor="middle" font-family='"Liberation Serif", "Times New Roman", serif' font-size="18" fill="#000">0.82</text>
<text x="1015.2" y="1052.1" text-anchor="middle" font-family='"Liberation Serif", "Times New Roman", serif' font-size="18" fill="#000">-0.82</text>
<text x="241.2" y="1157.2" text-anchor="middle" font-family='"Liberation Serif", "Times New Roman", serif' font-size="18" fill="#000">*</text>
<text x="434.8" y="1157.2" text-anchor="middle" font-family='"Liberation Serif", "Times New Roman", serif' font-size="18" fill="#000">*</text>
<text x="628.2" y="1157.2" text-anchor="middle" font-family='"Liberation Serif", "Times New Roman", serif' font-size="18" fill="#000">1.00</text>
<text x="821.8" y="1157.2" text-anchor="middle" font-family='"Liberation Serif", "Times New Roman", serif' font-size="18" fill="#000">0.61</text>
<text x="1015.2" y="1157.2" text-anchor="middle" font-family='"Liberation Serif", "Times New Roman", serif' font-size="18" fill="#000">-0.68</text>
<text x="241.2" y="1262.3" text-anchor="middle" font-family='"Liberation Serif", "Times New Roman", serif' font-size="18" fill="#000">-</text>
<text x="434.8" y="1262.3" text-anchor="middle" font-family='"Liberation Serif", "Times New Roman", serif' font-size="18" fill="#000">****</text>
<text x="628.2" y="1262.3" text-anchor="middle" font-family='"Liberation Serif", "Times New Roman", serif' font-size="18" fill="#000">**</text>
<text x="821.8" y="1262.3" text-anchor="middle" font-family='"Liberation Serif", "Times New Roman", serif' font-size="18" fill="#000">1.00</text>
<text x="1015.2" y="1262.3" text-anchor="middle" font-family='"Liberation Serif", "Times New Roman", serif' font-size="18" fill="#000">-0.63</text>
<text x="241.2" y="1367.4" text-anchor="middle" font-family='"Liberation Serif", "Times New Roman", serif' font-size="18" fill="#000">-</text>
<text x="434.8" y="1367.4" text-anchor="middle" font-family='"Liberation Serif", "Times New Roman", serif' font-size="18" fill="#000">****</text>
<text x="628.2" y="1367.4" text-anchor="middle" font-family='"Liberation Serif", "Times New Roman", serif' font-size="18" fill="#000">**</text>
<text x="821.8" y="1367.4" text-anchor="middle" font-family='"Liberation Serif", "Times New Roman", serif' font-size="18" fill="#000">**</text>
<text x="1015.2" y="1367.4" text-anchor="middle" font-family='"Liberation Serif", "Times New Roman", serif' font-size="18" fill="#000">1.00</text>
<text x="136.3" y="946.9" text-anchor="end" font-family='"Liberation Serif", "Times New Roman", serif' font-size="18" fill="#000">CCT3</text>
<text transform="translate(237.1,1426.5) rotate(-45)" text-anchor="end" font-family='"Liberation Serif", "Times New Roman", serif' font-size="18" fill="#000" dy="6">CCT3</text>
<text x="136.3" y="1052.0" text-anchor="end" font-family='"Liberation Serif", "Times New Roman", serif' font-size="18" fill="#000">CDC25A</text>
<text transform="translate(430.6,1426.5) rotate(-45)" text-anchor="end" font-family='"Liberation Serif", "Times New Roman", serif' font-size="18" fill="#000" dy="6">CDC25A</text>
<text x="136.3" y="1157.1" text-anchor="end" font-family='"Liberation Serif", "Times New Roman", serif' font-size="18" fill="#000">PRC1</text>
<text transform="translate(624.0,1426.5) rotate(-45)" text-anchor="end" font-family='"Liberation Serif", "Times New Roman", serif' font-size="18" fill="#000" dy="6">PRC1</text>
<text x="136.3" y="1262.2" text-anchor="end" font-family='"Liberation Serif", "Times New Roman", serif' font-size="18" fill="#000">DIAPH3</text>
<text transform="translate(817.5,1426.5) rotate(-45)" text-anchor="end" font-family='"Liberation Serif", "Times New Roman", serif' font-size="18" fill="#000" dy="6">DIAPH3</text>
<text x="136.3" y="1367.3" text-anchor="end" font-family='"Liberation Serif", "Times New Roman", serif' font-size="18" fill="#000">KLF2</text>
<text transform="translate(1011.0,1426.5) rotate(-45)" text-anchor="end" font-family='"Liberation Serif", "Times New Roman", serif' font-size="18" fill="#000" dy="6">KLF2</text>
<rect x="1127.0" y="1171.6" width="43.59999999999991" height="10.8" fill="#ff0000"/>
<rect x="1127.0" y="1182.10" width="43.59999999999991" height="5.81" fill="#ff4c4c"/>
<rect x="1127.0" y="1187.56" width="43.59999999999991" height="5.81" fill="#ff6161"/>
<rect x="1127.0" y="1193.02" width="43.59999999999991" height="5.81" fill="#ff7171"/>
<rect x="1127.0" y="1198.48" width="43.59999999999991" height="5.81" fill="#ff7f7f"/>
<rect x="1127.0" y="1203.94" width="43.59999999999991" height="5.81" fill="#ff8b8b"/>
<rect x="1127.0" y="1209.40" width="43.59999999999991" height="5.81" fill="#ff9696"/>
<rect x="1127.0" y="1214.86" width="43.59999999999991" height="5.81" fill="#ffa1a1"/>
<rect x="1127.0" y="1220.32" width="43.59999999999991" height="5.81" fill="#ffaaaa"/>
<rect x="1127.0" y="1225.78" width="43.59999999999991" height="5.81" fill="#ffb3b3"/>
<rect x="1127.0" y="1231.24" width="43.59999999999991" height="5.81" fill="#ffbcbc"/>
<rect x="1127.0" y="1236.70" width="43.59999999999991" height="5.81" fill="#ffc3c3"/>
<rect x="1127.0" y="1242.16" width="43.59999999999991" height="5.81" fill="#ffcbcb"/>
<rect x="1127.0" y="1247.62" width="43.59999999999991" height="5.81" fill="#ffd2d2"/>
<rect x="1127.0" y="1253.08" width="43.59999999999991" height="5.81" fill="#ffd9d9"/>
<rect x="1127.0" y="1258.54" width="43.59999999999991" height="5.81" fill="#ffe0e0"/>
<rect x="1127.0" y="1264.00" width="43.59999999999991" height="5.81" fill="#ffe7e7"/>
<rect x="1127.0" y="1269.46" width="43.59999999999991" height="5.81" fill="#ffeded"/>
<rect x="1127.0" y="1274.92" width="43.59999999999991" height="5.81" fill="#fff3f3"/>
<rect x="1127.0" y="1280.38" width="43.59999999999991" height="5.81" fill="#fff9f9"/>
<rect x="1127.0" y="1285.84" width="43.59999999999991" height="5.81" fill="#fbfbff"/>
<rect x="1127.0" y="1291.30" width="43.59999999999991" height="5.81" fill="#f5f5ff"/>
<rect x="1127.0" y="1296.76" width="43.59999999999991" height="5.81" fill="#efefff"/>
<rect x="1127.0" y="1302.22" width="43.59999999999991" height="5.81" fill="#eaeaff"/>
<rect x="1127.0" y="1307.68" width="43.59999999999991" height="5.81" fill="#e4e4ff"/>
<rect x="1127.0" y="1313.14" width="43.59999999999991" height="5.81" fill="#ddddff"/>
<rect x="1127.0" y="1318.60" width="43.59999999999991" height="5.81" fill="#d7d7ff"/>
<rect x="1127.0" y="1324.06" width="43.59999999999991" height="5.81" fill="#d0d0ff"/>
<rect x="1127.0" y="1329.52" width="43.59999999999991" height="5.81" fill="#c9c9ff"/>
<rect x="1127.0" y="1334.98" width="43.59999999999991" height="5.81" fill="#c2c2ff"/>
<rect x="1127.0" y="1340.44" width="43.59999999999991" height="5.81" fill="#babaff"/>
<rect x="1127.0" y="1345.90" width="43.59999999999991" height="5.81" fill="#b2b2ff"/>
<rect x="1127.0" y="1351.36" width="43.59999999999991" height="5.81" fill="#aaaaff"/>
<rect x="1127.0" y="1356.82" width="43.59999999999991" height="5.81" fill="#a1a1ff"/>
<rect x="1127.0" y="1362.28" width="43.59999999999991" height="5.81" fill="#9797ff"/>
<rect x="1127.0" y="1367.74" width="43.59999999999991" height="5.81" fill="#8c8cff"/>
<rect x="1127.0" y="1373.20" width="43.59999999999991" height="5.81" fill="#8181ff"/>
<rect x="1127.0" y="1378.66" width="43.59999999999991" height="5.81" fill="#7474ff"/>
<rect x="1127.0" y="1384.12" width="43.59999999999991" height="5.81" fill="#6565ff"/>
<rect x="1127.0" y="1389.58" width="43.59999999999991" height="5.81" fill="#5353ff"/>
<rect x="1127.0" y="1395.04" width="43.59999999999991" height="5.81" fill="#3a3aff"/>
<line x1="1171" y1="1171.8" x2="1171" y2="1396.5" stroke="#000" stroke-width="1.5"/>
<line x1="1171" y1="1175.0" x2="1179.3" y2="1175.0" stroke="#000" stroke-width="1.4"/>
<text x="1184.2" y="1181.1" font-family='"Liberation Serif", "Times New Roman", serif' font-size="18.2" fill="#000">0.8</text>
<line x1="1171" y1="1202.3" x2="1179.3" y2="1202.3" stroke="#000" stroke-width="1.4"/>
<text x="1184.2" y="1208.4" font-family='"Liberation Serif", "Times New Roman", serif' font-size="18.2" fill="#000">0.6</text>
<line x1="1171" y1="1229.6" x2="1179.3" y2="1229.6" stroke="#000" stroke-width="1.4"/>
<text x="1184.2" y="1235.7" font-family='"Liberation Serif", "Times New Roman", serif' font-size="18.2" fill="#000">0.4</text>
<line x1="1171" y1="1256.9" x2="1179.3" y2="1256.9" stroke="#000" stroke-width="1.4"/>
<text x="1184.2" y="1263.0" font-family='"Liberation Serif", "Times New Roman", serif' font-size="18.2" fill="#000">0.2</text>
<line x1="1171" y1="1284.2" x2="1179.3" y2="1284.2" stroke="#000" stroke-width="1.4"/>
<text x="1184.2" y="1290.3" font-family='"Liberation Serif", "Times New Roman", serif' font-size="18.2" fill="#000">0.0</text>
<line x1="1171" y1="1311.5" x2="1179.3" y2="1311.5" stroke="#000" stroke-width="1.4"/>
<text x="1184.2" y="1317.6" font-family='"Liberation Serif", "Times New Roman", serif' font-size="18.2" fill="#000">−0.2</text>
<line x1="1171" y1="1338.8" x2="1179.3" y2="1338.8" stroke="#000" stroke-width="1.4"/>
<text x="1184.2" y="1344.9" font-family='"Liberation Serif", "Times New Roman", serif' font-size="18.2" fill="#000">−0.4</text>
<line x1="1171" y1="1366.1" x2="1179.3" y2="1366.1" stroke="#000" stroke-width="1.4"/>
<text x="1184.2" y="1372.2" font-family='"Liberation Serif", "Times New Roman", serif' font-size="18.2" fill="#000">−0.6</text>
<line x1="1171" y1="1393.4" x2="1179.3" y2="1393.4" stroke="#000" stroke-width="1.4"/>
<text x="1184.2" y="1399.5" font-family='"Liberation Serif", "Times New Roman", serif' font-size="18.2" fill="#000">−0.8</text>
<line x1="1171" y1="1172.3" x2="1179.3" y2="1172.3" stroke="#000" stroke-width="1.2"/>
<line x1="1171" y1="1396" x2="1179.3" y2="1396" stroke="#000" stroke-width="1.2"/>
<text x="1119.7" y="1165" font-family='"Liberation Serif", "Times New Roman", serif' font-size="18.2" fill="#000">correlation coefficient</text>
<text x="-0.4" y="848.9" font-family='"Liberation Sans", Arial, sans-serif' font-weight="700" font-size="57.5" fill="#000">C</text>
<rect x="1571.2" y="836.5" width="308.39999999999986" height="572.5999999999999" fill="#fff" stroke="#2a2a2a" stroke-width="1.6"/>
<line x1="1559.2" y1="1335.7" x2="1571.2" y2="1335.7" stroke="#2a2a2a" stroke-width="1.6"/>
<text transform="translate(1544,1335.7) rotate(-90)" text-anchor="middle" font-family='"Liberation Sans", Arial, sans-serif' font-size="19.5" fill="#111">5</text>
<line x1="1559.2" y1="1236.3" x2="1571.2" y2="1236.3" stroke="#2a2a2a" stroke-width="1.6"/>
<text transform="translate(1544,1236.3) rotate(-90)" text-anchor="middle" font-family='"Liberation Sans", Arial, sans-serif' font-size="19.5" fill="#111">6</text>
<line x1="1559.2" y1="1136.9" x2="1571.2" y2="1136.9" stroke="#2a2a2a" stroke-width="1.6"/>
<text transform="translate(1544,1136.9) rotate(-90)" text-anchor="middle" font-family='"Liberation Sans", Arial, sans-serif' font-size="19.5" fill="#111">7</text>
<line x1="1559.2" y1="1037.5" x2="1571.2" y2="1037.5" stroke="#2a2a2a" stroke-width="1.6"/>
<text transform="translate(1544,1037.5) rotate(-90)" text-anchor="middle" font-family='"Liberation Sans", Arial, sans-serif' font-size="19.5" fill="#111">8</text>
<line x1="1559.2" y1="938.1" x2="1571.2" y2="938.1" stroke="#2a2a2a" stroke-width="1.6"/>
<text transform="translate(1544,938.1) rotate(-90)" text-anchor="middle" font-family='"Liberation Sans", Arial, sans-serif' font-size="19.5" fill="#111">9</text>
<line x1="1559.2" y1="838.7" x2="1571.2" y2="838.7" stroke="#2a2a2a" stroke-width="1.6"/>
<text transform="translate(1544,838.7) rotate(-90)" text-anchor="middle" font-family='"Liberation Sans", Arial, sans-serif' font-size="19.5" fill="#111">10</text>
<line x1="1559.2" y1="838.7" x2="1559.2" y2="1335.7" stroke="#222" stroke-width="0"/>
<line x1="1725.3" y1="1409.1" x2="1725.3" y2="1421.1" stroke="#2a2a2a" stroke-width="1.6"/>
<text x="1722.6" y="817.2" text-anchor="middle" font-family='"Liberation Sans", Arial, sans-serif' font-weight="700" font-size="41" letter-spacing="0.6" fill="#000">CCT3</text>
<text x="1723" y="1450.2" text-anchor="middle" font-family='"Liberation Sans", Arial, sans-serif' font-size="19.3" fill="#111">BLCA</text>
<text x="1725.6" y="1473.4" text-anchor="middle" font-family='"Liberation Sans", Arial, sans-serif' font-size="19.3" fill="#111">(num(T)=404; num(N)=28)</text>
<text transform="translate(1493.2,1123) rotate(-90)" text-anchor="middle" font-family='"Liberation Sans", Arial, sans-serif' font-size="19.5" word-spacing="-2.1" fill="#111">Expression − log<tspan font-size="13" dy="4">2</tspan><tspan dy="-4">(TPM + 1)</tspan></text>
<line x1="1677.6" y1="937.6" x2="1677.6" y2="1028.4" stroke="#111" stroke-width="1.2" stroke-dasharray="5,4"/>
<line x1="1677.6" y1="1091.9" x2="1677.6" y2="1175.9" stroke="#111" stroke-width="1.2" stroke-dasharray="5,4"/>
<line x1="1658.3" y1="937.6" x2="1697.1" y2="937.6" stroke="#111" stroke-width="1.3"/>
<line x1="1658.3" y1="1175.9" x2="1697.1" y2="1175.9" stroke="#111" stroke-width="1.3"/>
<rect x="1639.3" y="1028.4" width="76.7" height="63.5" fill="#ff6969" stroke="#222" stroke-width="1.2"/>
<line x1="1639.3" y1="1058.2" x2="1716" y2="1058.2" stroke="#000" stroke-width="3.6"/>
<line x1="1773.0" y1="1060.8" x2="1773.0" y2="1110.8" stroke="#111" stroke-width="1.2" stroke-dasharray="5,4"/>
<line x1="1773.0" y1="1148.9" x2="1773.0" y2="1167.5" stroke="#111" stroke-width="1.2" stroke-dasharray="5,4"/>
<line x1="1753.5" y1="1060.8" x2="1792.4" y2="1060.8" stroke="#111" stroke-width="1.3"/>
<line x1="1753.5" y1="1167.5" x2="1792.4" y2="1167.5" stroke="#111" stroke-width="1.3"/>
<rect x="1734.6" y="1110.8" width="76.7" height="38.1" fill="#808080" stroke="#222" stroke-width="1.2"/>
<line x1="1734.6" y1="1123.2" x2="1811.3" y2="1123.2" stroke="#000" stroke-width="3.6"/>
<path d="M1677.6,881.6 L1677.6,858 L1716,858 M1735.4,858 L1773,858 L1773,1038" fill="none" stroke="#1a1a1a" stroke-width="1.4"/>
<text x="1725.2" y="874" text-anchor="middle" font-family='"Liberation Sans", Arial, sans-serif' font-weight="700" font-size="33" fill="#ff0000">*</text>
<circle cx="1679.2" cy="904.2" r="1.85" fill="#000"/>
<circle cx="1668.3" cy="907.2" r="1.85" fill="#000"/>
<circle cx="1671.0" cy="911.0" r="1.85" fill="#000"/>
<circle cx="1685.3" cy="918.3" r="1.85" fill="#000"/>
<circle cx="1674.9" cy="922.4" r="1.85" fill="#000"/>
<circle cx="1684.5" cy="926.4" r="1.85" fill="#000"/>
<circle cx="1684.3" cy="1188.4" r="1.85" fill="#000"/>
<circle cx="1678.1" cy="1195.3" r="1.85" fill="#000"/>
<circle cx="1682.4" cy="1201.6" r="1.85" fill="#000"/>
<circle cx="1678.6" cy="1203.2" r="1.85" fill="#000"/>
<circle cx="1678.9" cy="1210.0" r="1.85" fill="#000"/>
<circle cx="1680.8" cy="1223.5" r="1.85" fill="#000"/>
<circle cx="1668.0" cy="1387.6" r="1.85" fill="#000"/>
<circle cx="1669.5" cy="1028.1" r="1.85" fill="#000"/>
<circle cx="1675.0" cy="1016.2" r="1.85" fill="#000"/>
<circle cx="1676.3" cy="1068.3" r="1.85" fill="#000"/>
<circle cx="1669.8" cy="1058.8" r="1.85" fill="#000"/>
<circle cx="1672.3" cy="1049.8" r="1.85" fill="#000"/>
<circle cx="1686.1" cy="1074.7" r="1.85" fill="#000"/>
<circle cx="1669.0" cy="1136.3" r="1.85" fill="#000"/>
<circle cx="1674.0" cy="1047.3" r="1.85" fill="#000"/>
<circle cx="1671.5" cy="1018.9" r="1.85" fill="#000"/>
<circle cx="1678.5" cy="1080.6" r="1.85" fill="#000"/>
<circle cx="1669.2" cy="1084.8" r="1.85" fill="#000"/>
<circle cx="1674.1" cy="1074.4" r="1.85" fill="#000"/>
<circle cx="1676.7" cy="1092.6" r="1.85" fill="#000"/>
<circle cx="1672.7" cy="1043.1" r="1.85" fill="#000"/>
<circle cx="1678.1" cy="1111.7" r="1.85" fill="#000"/>
<circle cx="1686.7" cy="1057.7" r="1.85" fill="#000"/>
<circle cx="1676.0" cy="1087.6" r="1.85" fill="#000"/>
<circle cx="1668.8" cy="997.5" r="1.85" fill="#000"/>
<circle cx="1682.6" cy="1024.5" r="1.85" fill="#000"/>
<circle cx="1681.3" cy="1036.4" r="1.85" fill="#000"/>
<circle cx="1679.1" cy="1080.3" r="1.85" fill="#000"/>
<circle cx="1677.1" cy="1012.3" r="1.85" fill="#000"/>
<circle cx="1669.3" cy="1131.1" r="1.85" fill="#000"/>
<circle cx="1683.7" cy="1126.4" r="1.85" fill="#000"/>
<circle cx="1675.4" cy="1148.5" r="1.85" fill="#000"/>
<circle cx="1671.3" cy="1018.9" r="1.85" fill="#000"/>
<circle cx="1669.2" cy="1052.7" r="1.85" fill="#000"/>
<circle cx="1675.5" cy="1009.2" r="1.85" fill="#000"/>
<circle cx="1669.6" cy="1007.0" r="1.85" fill="#000"/>
<circle cx="1683.7" cy="1129.0" r="1.85" fill="#000"/>
<circle cx="1673.4" cy="1098.6" r="1.85" fill="#000"/>
<circle cx="1686.3" cy="1105.3" r="1.85" fill="#000"/>
<circle cx="1671.4" cy="1000.8" r="1.85" fill="#000"/>
<circle cx="1679.3" cy="1054.1" r="1.85" fill="#000"/>
<circle cx="1668.2" cy="1017.4" r="1.85" fill="#000"/>
<circle cx="1686.2" cy="1089.9" r="1.85" fill="#000"/>
<circle cx="1677.9" cy="1024.5" r="1.85" fill="#000"/>
<circle cx="1685.2" cy="1063.7" r="1.85" fill="#000"/>
<circle cx="1684.7" cy="1072.5" r="1.85" fill="#000"/>
<circle cx="1670.1" cy="1110.4" r="1.85" fill="#000"/>
<circle cx="1669.3" cy="1035.8" r="1.85" fill="#000"/>
<circle cx="1674.6" cy="1052.9" r="1.85" fill="#000"/>
<circle cx="1668.1" cy="1037.8" r="1.85" fill="#000"/>
<circle cx="1668.6" cy="1031.0" r="1.85" fill="#000"/>
<circle cx="1679.8" cy="1005.6" r="1.85" fill="#000"/>
<circle cx="1675.0" cy="1058.8" r="1.85" fill="#000"/>
<circle cx="1684.2" cy="1025.3" r="1.85" fill="#000"/>
<circle cx="1669.7" cy="1136.6" r="1.85" fill="#000"/>
<circle cx="1674.6" cy="1049.6" r="1.85" fill="#000"/>
<circle cx="1668.5" cy="1048.3" r="1.85" fill="#000"/>
<circle cx="1678.1" cy="1089.9" r="1.85" fill="#000"/>
<circle cx="1678.1" cy="1066.4" r="1.85" fill="#000"/>
<circle cx="1684.5" cy="1054.3" r="1.85" fill="#000"/>
<circle cx="1671.3" cy="1060.8" r="1.85" fill="#000"/>
<circle cx="1678.2" cy="975.5" r="1.85" fill="#000"/>
<circle cx="1683.5" cy="1075.9" r="1.85" fill="#000"/>
<circle cx="1684.3" cy="1001.1" r="1.85" fill="#000"/>
<circle cx="1672.4" cy="996.5" r="1.85" fill="#000"/>
<circle cx="1674.9" cy="1111.8" r="1.85" fill="#000"/>
<circle cx="1673.0" cy="1029.8" r="1.85" fill="#000"/>
<circle cx="1686.3" cy="1053.3" r="1.85" fill="#000"/>
<circle cx="1686.2" cy="960.1" r="1.85" fill="#000"/>
<circle cx="1672.3" cy="1099.4" r="1.85" fill="#000"/>
<circle cx="1680.0" cy="1050.4" r="1.85" fill="#000"/>
<circle cx="1684.1" cy="999.9" r="1.85" fill="#000"/>
<circle cx="1669.7" cy="1095.1" r="1.85" fill="#000"/>
<circle cx="1685.4" cy="1111.0" r="1.85" fill="#000"/>
<circle cx="1671.5" cy="1049.3" r="1.85" fill="#000"/>
<circle cx="1674.4" cy="1137.8" r="1.85" fill="#000"/>
<circle cx="1675.7" cy="972.8" r="1.85" fill="#000"/>
<circle cx="1681.9" cy="1063.2" r="1.85" fill="#000"/>
<circle cx="1685.3" cy="1044.1" r="1.85" fill="#000"/>
<circle cx="1670.9" cy="1017.6" r="1.85" fill="#000"/>
<circle cx="1674.8" cy="936.8" r="1.85" fill="#000"/>
<circle cx="1670.6" cy="1064.8" r="1.85" fill="#000"/>
<circle cx="1678.1" cy="1007.4" r="1.85" fill="#000"/>
<circle cx="1676.3" cy="1069.9" r="1.85" fill="#000"/>
<circle cx="1672.9" cy="1024.8" r="1.85" fill="#000"/>
<circle cx="1672.7" cy="1080.2" r="1.85" fill="#000"/>
<circle cx="1670.6" cy="1060.6" r="1.85" fill="#000"/>
<circle cx="1674.8" cy="968.8" r="1.85" fill="#000"/>
<circle cx="1676.1" cy="1125.5" r="1.85" fill="#000"/>
<circle cx="1677.6" cy="1133.4" r="1.85" fill="#000"/>
<circle cx="1676.5" cy="1065.3" r="1.85" fill="#000"/>
<circle cx="1668.2" cy="1059.4" r="1.85" fill="#000"/>
<circle cx="1681.9" cy="1008.3" r="1.85" fill="#000"/>
<circle cx="1674.3" cy="1022.6" r="1.85" fill="#000"/>
<circle cx="1670.1" cy="1117.3" r="1.85" fill="#000"/>
<circle cx="1672.8" cy="1079.8" r="1.85" fill="#000"/>
<circle cx="1678.8" cy="1052.4" r="1.85" fill="#000"/>
<circle cx="1685.4" cy="1140.8" r="1.85" fill="#000"/>
<circle cx="1677.8" cy="1090.7" r="1.85" fill="#000"/>
<circle cx="1676.7" cy="1086.0" r="1.85" fill="#000"/>
<circle cx="1681.4" cy="1142.8" r="1.85" fill="#000"/>
<circle cx="1686.0" cy="1024.0" r="1.85" fill="#000"/>
<circle cx="1684.1" cy="1138.2" r="1.85" fill="#000"/>
<circle cx="1670.4" cy="1089.7" r="1.85" fill="#000"/>
<circle cx="1669.5" cy="1034.5" r="1.85" fill="#000"/>
<circle cx="1683.0" cy="1046.7" r="1.85" fill="#000"/>
<circle cx="1680.6" cy="979.9" r="1.85" fill="#000"/>
<circle cx="1684.9" cy="1011.5" r="1.85" fill="#000"/>
<circle cx="1675.7" cy="1013.1" r="1.85" fill="#000"/>
<circle cx="1686.9" cy="971.6" r="1.85" fill="#000"/>
<circle cx="1677.9" cy="1005.9" r="1.85" fill="#000"/>
<circle cx="1671.8" cy="1026.1" r="1.85" fill="#000"/>
<circle cx="1678.6" cy="1059.6" r="1.85" fill="#000"/>
<circle cx="1668.4" cy="1065.4" r="1.85" fill="#000"/>
<circle cx="1669.3" cy="1088.9" r="1.85" fill="#000"/>
<circle cx="1683.1" cy="1114.7" r="1.85" fill="#000"/>
<circle cx="1668.9" cy="1001.2" r="1.85" fill="#000"/>
<circle cx="1673.2" cy="1012.2" r="1.85" fill="#000"/>
<circle cx="1683.7" cy="1127.9" r="1.85" fill="#000"/>
<circle cx="1670.9" cy="1021.4" r="1.85" fill="#000"/>
<circle cx="1669.8" cy="1158.2" r="1.85" fill="#000"/>
<circle cx="1681.2" cy="1082.2" r="1.85" fill="#000"/>
<circle cx="1680.2" cy="982.5" r="1.85" fill="#000"/>
<circle cx="1669.7" cy="969.0" r="1.85" fill="#000"/>
<circle cx="1674.5" cy="1029.4" r="1.85" fill="#000"/>
<circle cx="1670.6" cy="1033.1" r="1.85" fill="#000"/>
<circle cx="1672.6" cy="1070.9" r="1.85" fill="#000"/>
<circle cx="1671.9" cy="1052.3" r="1.85" fill="#000"/>
<circle cx="1673.9" cy="1048.6" r="1.85" fill="#000"/>
<circle cx="1671.5" cy="1072.1" r="1.85" fill="#000"/>
<circle cx="1668.4" cy="1017.6" r="1.85" fill="#000"/>
<circle cx="1678.6" cy="1000.5" r="1.85" fill="#000"/>
<circle cx="1677.1" cy="1052.8" r="1.85" fill="#000"/>
<circle cx="1676.3" cy="936.9" r="1.85" fill="#000"/>
<circle cx="1684.0" cy="1017.4" r="1.85" fill="#000"/>
<circle cx="1686.8" cy="1112.9" r="1.85" fill="#000"/>
<circle cx="1683.9" cy="1060.7" r="1.85" fill="#000"/>
<circle cx="1674.7" cy="1082.3" r="1.85" fill="#000"/>
<circle cx="1670.6" cy="1085.9" r="1.85" fill="#000"/>
<circle cx="1671.2" cy="1059.9" r="1.85" fill="#000"/>
<circle cx="1684.1" cy="1085.8" r="1.85" fill="#000"/>
<circle cx="1672.7" cy="1079.6" r="1.85" fill="#000"/>
<circle cx="1676.8" cy="1083.9" r="1.85" fill="#000"/>
<circle cx="1686.4" cy="1084.7" r="1.85" fill="#000"/>
<circle cx="1678.5" cy="1029.2" r="1.85" fill="#000"/>
<circle cx="1674.9" cy="1028.3" r="1.85" fill="#000"/>
<circle cx="1675.4" cy="1065.0" r="1.85" fill="#000"/>
<circle cx="1677.7" cy="1082.3" r="1.85" fill="#000"/>
<circle cx="1673.1" cy="1058.8" r="1.85" fill="#000"/>
<circle cx="1668.5" cy="1066.8" r="1.85" fill="#000"/>
<circle cx="1672.5" cy="1052.2" r="1.85" fill="#000"/>
<circle cx="1680.6" cy="1117.0" r="1.85" fill="#000"/>
<circle cx="1684.8" cy="1069.2" r="1.85" fill="#000"/>
<circle cx="1670.9" cy="1106.0" r="1.85" fill="#000"/>
<circle cx="1685.0" cy="993.0" r="1.85" fill="#000"/>
<circle cx="1682.0" cy="1039.9" r="1.85" fill="#000"/>
<circle cx="1677.7" cy="988.9" r="1.85" fill="#000"/>
<circle cx="1683.4" cy="976.9" r="1.85" fill="#000"/>
<circle cx="1681.3" cy="1096.5" r="1.85" fill="#000"/>
<circle cx="1675.0" cy="1039.6" r="1.85" fill="#000"/>
<circle cx="1684.0" cy="1054.7" r="1.85" fill="#000"/>
<circle cx="1681.0" cy="1093.2" r="1.85" fill="#000"/>
<circle cx="1668.2" cy="1094.5" r="1.85" fill="#000"/>
<circle cx="1678.3" cy="1050.4" r="1.85" fill="#000"/>
<circle cx="1669.4" cy="1100.7" r="1.85" fill="#000"/>
<circle cx="1673.1" cy="1049.8" r="1.85" fill="#000"/>
<circle cx="1672.0" cy="1018.9" r="1.85" fill="#000"/>
<circle cx="1675.4" cy="960.0" r="1.85" fill="#000"/>
<circle cx="1681.1" cy="1064.7" r="1.85" fill="#000"/>
<circle cx="1669.6" cy="1132.0" r="1.85" fill="#000"/>
<circle cx="1672.9" cy="1092.8" r="1.85" fill="#000"/>
<circle cx="1668.3" cy="1083.1" r="1.85" fill="#000"/>
<circle cx="1673.2" cy="1014.7" r="1.85" fill="#000"/>
<circle cx="1673.6" cy="1077.5" r="1.85" fill="#000"/>
<circle cx="1676.9" cy="1108.6" r="1.85" fill="#000"/>
<circle cx="1671.9" cy="1002.7" r="1.85" fill="#000"/>
<circle cx="1685.9" cy="938.2" r="1.85" fill="#000"/>
<circle cx="1686.5" cy="1122.4" r="1.85" fill="#000"/>
<circle cx="1673.2" cy="1041.5" r="1.85" fill="#000"/>
<circle cx="1679.1" cy="1035.2" r="1.85" fill="#000"/>
<circle cx="1678.1" cy="1066.6" r="1.85" fill="#000"/>
<circle cx="1677.8" cy="952.8" r="1.85" fill="#000"/>
<circle cx="1681.5" cy="943.1" r="1.85" fill="#000"/>
<circle cx="1668.6" cy="1025.3" r="1.85" fill="#000"/>
<circle cx="1677.4" cy="1083.1" r="1.85" fill="#000"/>
<circle cx="1674.6" cy="1064.7" r="1.85" fill="#000"/>
<circle cx="1684.1" cy="1039.7" r="1.85" fill="#000"/>
<circle cx="1670.4" cy="1058.1" r="1.85" fill="#000"/>
<circle cx="1675.2" cy="1034.3" r="1.85" fill="#000"/>
<circle cx="1687.1" cy="1075.5" r="1.85" fill="#000"/>
<circle cx="1673.3" cy="1082.6" r="1.85" fill="#000"/>
<circle cx="1670.0" cy="1029.3" r="1.85" fill="#000"/>
<circle cx="1672.8" cy="1089.7" r="1.85" fill="#000"/>
<circle cx="1677.8" cy="976.7" r="1.85" fill="#000"/>
<circle cx="1684.9" cy="1121.0" r="1.85" fill="#000"/>
<circle cx="1678.5" cy="985.6" r="1.85" fill="#000"/>
<circle cx="1669.0" cy="1102.4" r="1.85" fill="#000"/>
<circle cx="1680.3" cy="1172.9" r="1.85" fill="#000"/>
<circle cx="1669.0" cy="1040.2" r="1.85" fill="#000"/>
<circle cx="1674.6" cy="988.4" r="1.85" fill="#000"/>
<circle cx="1682.1" cy="1029.4" r="1.85" fill="#000"/>
<circle cx="1673.8" cy="1056.7" r="1.85" fill="#000"/>
<circle cx="1675.6" cy="1006.2" r="1.85" fill="#000"/>
<circle cx="1685.3" cy="1045.5" r="1.85" fill="#000"/>
<circle cx="1672.3" cy="1037.6" r="1.85" fill="#000"/>
<circle cx="1670.8" cy="964.7" r="1.85" fill="#000"/>
<circle cx="1669.8" cy="1059.2" r="1.85" fill="#000"/>
<circle cx="1673.0" cy="1036.1" r="1.85" fill="#000"/>
<circle cx="1685.0" cy="1044.0" r="1.85" fill="#000"/>
<circle cx="1678.1" cy="1117.8" r="1.85" fill="#000"/>
<circle cx="1674.5" cy="1039.1" r="1.85" fill="#000"/>
<circle cx="1670.5" cy="1074.5" r="1.85" fill="#000"/>
<circle cx="1680.1" cy="966.0" r="1.85" fill="#000"/>
<circle cx="1672.8" cy="1036.3" r="1.85" fill="#000"/>
<circle cx="1676.6" cy="1030.6" r="1.85" fill="#000"/>
<circle cx="1668.5" cy="957.9" r="1.85" fill="#000"/>
<circle cx="1681.6" cy="1117.5" r="1.85" fill="#000"/>
<circle cx="1668.1" cy="1151.1" r="1.85" fill="#000"/>
<circle cx="1685.7" cy="1050.4" r="1.85" fill="#000"/>
<circle cx="1670.2" cy="1133.9" r="1.85" fill="#000"/>
<circle cx="1686.0" cy="1112.0" r="1.85" fill="#000"/>
<circle cx="1680.4" cy="1065.9" r="1.85" fill="#000"/>
<circle cx="1668.9" cy="1144.1" r="1.85" fill="#000"/>
<circle cx="1672.5" cy="1023.4" r="1.85" fill="#000"/>
<circle cx="1670.5" cy="1089.7" r="1.85" fill="#000"/>
<circle cx="1680.2" cy="1082.5" r="1.85" fill="#000"/>
<circle cx="1678.1" cy="1048.0" r="1.85" fill="#000"/>
<circle cx="1675.5" cy="1049.5" r="1.85" fill="#000"/>
<circle cx="1673.8" cy="1062.6" r="1.85" fill="#000"/>
<circle cx="1686.3" cy="1061.5" r="1.85" fill="#000"/>
<circle cx="1672.6" cy="1028.1" r="1.85" fill="#000"/>
<circle cx="1686.4" cy="1085.5" r="1.85" fill="#000"/>
<circle cx="1677.6" cy="1061.0" r="1.85" fill="#000"/>
<circle cx="1676.1" cy="1051.3" r="1.85" fill="#000"/>
<circle cx="1672.4" cy="1098.8" r="1.85" fill="#000"/>
<circle cx="1674.5" cy="1129.1" r="1.85" fill="#000"/>
<circle cx="1683.2" cy="1068.1" r="1.85" fill="#000"/>
<circle cx="1677.7" cy="1096.4" r="1.85" fill="#000"/>
<circle cx="1683.7" cy="1028.0" r="1.85" fill="#000"/>
<circle cx="1672.3" cy="1064.2" r="1.85" fill="#000"/>
<circle cx="1677.5" cy="1102.6" r="1.85" fill="#000"/>
<circle cx="1672.3" cy="973.7" r="1.85" fill="#000"/>
<circle cx="1670.9" cy="1102.6" r="1.85" fill="#000"/>
<circle cx="1672.1" cy="1133.5" r="1.85" fill="#000"/>
<circle cx="1669.2" cy="1033.5" r="1.85" fill="#000"/>
<circle cx="1685.2" cy="1049.3" r="1.85" fill="#000"/>
<circle cx="1685.8" cy="1078.5" r="1.85" fill="#000"/>
<circle cx="1668.7" cy="1003.9" r="1.85" fill="#000"/>
<circle cx="1675.3" cy="1081.6" r="1.85" fill="#000"/>
<circle cx="1668.2" cy="1069.1" r="1.85" fill="#000"/>
<circle cx="1674.8" cy="1039.4" r="1.85" fill="#000"/>
<circle cx="1674.9" cy="993.6" r="1.85" fill="#000"/>
<circle cx="1669.0" cy="1013.4" r="1.85" fill="#000"/>
<circle cx="1675.2" cy="1092.6" r="1.85" fill="#000"/>
<circle cx="1685.1" cy="1023.6" r="1.85" fill="#000"/>
<circle cx="1675.9" cy="1026.5" r="1.85" fill="#000"/>
<circle cx="1668.8" cy="1047.1" r="1.85" fill="#000"/>
<circle cx="1685.6" cy="1068.6" r="1.85" fill="#000"/>
<circle cx="1674.5" cy="1059.7" r="1.85" fill="#000"/>
<circle cx="1686.3" cy="1134.9" r="1.85" fill="#000"/>
<circle cx="1674.1" cy="1062.7" r="1.85" fill="#000"/>
<circle cx="1668.2" cy="1001.7" r="1.85" fill="#000"/>
<circle cx="1686.0" cy="954.3" r="1.85" fill="#000"/>
<circle cx="1672.5" cy="1083.8" r="1.85" fill="#000"/>
<circle cx="1675.4" cy="972.9" r="1.85" fill="#000"/>
<circle cx="1676.3" cy="1082.2" r="1.85" fill="#000"/>
<circle cx="1683.3" cy="1037.9" r="1.85" fill="#000"/>
<circle cx="1683.7" cy="1070.9" r="1.85" fill="#000"/>
<circle cx="1674.2" cy="1103.4" r="1.85" fill="#000"/>
<circle cx="1683.0" cy="1078.3" r="1.85" fill="#000"/>
<circle cx="1672.8" cy="1038.9" r="1.85" fill="#000"/>
<circle cx="1668.7" cy="1001.8" r="1.85" fill="#000"/>
<circle cx="1684.9" cy="1104.3" r="1.85" fill="#000"/>
<circle cx="1677.6" cy="1044.5" r="1.85" fill="#000"/>
<circle cx="1676.6" cy="1050.3" r="1.85" fill="#000"/>
<circle cx="1680.9" cy="1101.5" r="1.85" fill="#000"/>
<circle cx="1684.2" cy="995.6" r="1.85" fill="#000"/>
<circle cx="1673.7" cy="1008.7" r="1.85" fill="#000"/>
<circle cx="1675.2" cy="1011.0" r="1.85" fill="#000"/>
<circle cx="1672.8" cy="1031.1" r="1.85" fill="#000"/>
<circle cx="1684.9" cy="1032.8" r="1.85" fill="#000"/>
<circle cx="1687.0" cy="1075.0" r="1.85" fill="#000"/>
<circle cx="1672.5" cy="1026.5" r="1.85" fill="#000"/>
<circle cx="1677.1" cy="1148.5" r="1.85" fill="#000"/>
<circle cx="1668.9" cy="956.8" r="1.85" fill="#000"/>
<circle cx="1670.4" cy="1125.2" r="1.85" fill="#000"/>
<circle cx="1685.8" cy="1011.7" r="1.85" fill="#000"/>
<circle cx="1684.6" cy="1066.4" r="1.85" fill="#000"/>
<circle cx="1686.1" cy="1062.3" r="1.85" fill="#000"/>
<circle cx="1679.4" cy="996.4" r="1.85" fill="#000"/>
<circle cx="1670.8" cy="1051.4" r="1.85" fill="#000"/>
<circle cx="1672.9" cy="1024.8" r="1.85" fill="#000"/>
<circle cx="1668.3" cy="1072.4" r="1.85" fill="#000"/>
<circle cx="1681.0" cy="1078.0" r="1.85" fill="#000"/>
<circle cx="1683.2" cy="1067.6" r="1.85" fill="#000"/>
<circle cx="1669.3" cy="1036.1" r="1.85" fill="#000"/>
<circle cx="1680.2" cy="1094.2" r="1.85" fill="#000"/>
<circle cx="1671.2" cy="1030.7" r="1.85" fill="#000"/>
<circle cx="1673.9" cy="1083.0" r="1.85" fill="#000"/>
<circle cx="1674.0" cy="1015.4" r="1.85" fill="#000"/>
<circle cx="1684.5" cy="1081.5" r="1.85" fill="#000"/>
<circle cx="1675.0" cy="986.5" r="1.85" fill="#000"/>
<circle cx="1668.2" cy="1061.7" r="1.85" fill="#000"/>
<circle cx="1676.2" cy="1101.3" r="1.85" fill="#000"/>
<circle cx="1671.2" cy="1017.2" r="1.85" fill="#000"/>
<circle cx="1685.4" cy="1106.9" r="1.85" fill="#000"/>
<circle cx="1679.9" cy="1074.7" r="1.85" fill="#000"/>
<circle cx="1673.5" cy="1078.5" r="1.85" fill="#000"/>
<circle cx="1685.7" cy="1058.9" r="1.85" fill="#000"/>
<circle cx="1686.5" cy="1122.9" r="1.85" fill="#000"/>
<circle cx="1670.5" cy="1054.5" r="1.85" fill="#000"/>
<circle cx="1669.1" cy="961.5" r="1.85" fill="#000"/>
<circle cx="1675.5" cy="1063.1" r="1.85" fill="#000"/>
<circle cx="1671.1" cy="1154.7" r="1.85" fill="#000"/>
<circle cx="1672.3" cy="1148.7" r="1.85" fill="#000"/>
<circle cx="1671.6" cy="1020.1" r="1.85" fill="#000"/>
<circle cx="1675.7" cy="1113.7" r="1.85" fill="#000"/>
<circle cx="1672.8" cy="1072.0" r="1.85" fill="#000"/>
<circle cx="1685.1" cy="1022.9" r="1.85" fill="#000"/>
<circle cx="1668.8" cy="1114.0" r="1.85" fill="#000"/>
<circle cx="1670.3" cy="1099.3" r="1.85" fill="#000"/>
<circle cx="1673.9" cy="1106.2" r="1.85" fill="#000"/>
<circle cx="1679.2" cy="1073.9" r="1.85" fill="#000"/>
<circle cx="1676.4" cy="1079.5" r="1.85" fill="#000"/>
<circle cx="1679.9" cy="1091.1" r="1.85" fill="#000"/>
<circle cx="1682.9" cy="1052.8" r="1.85" fill="#000"/>
<circle cx="1671.5" cy="997.9" r="1.85" fill="#000"/>
<circle cx="1676.3" cy="1043.7" r="1.85" fill="#000"/>
<circle cx="1676.5" cy="1046.7" r="1.85" fill="#000"/>
<circle cx="1669.7" cy="1009.1" r="1.85" fill="#000"/>
<circle cx="1682.9" cy="1021.5" r="1.85" fill="#000"/>
<circle cx="1675.3" cy="1018.4" r="1.85" fill="#000"/>
<circle cx="1670.7" cy="1018.7" r="1.85" fill="#000"/>
<circle cx="1671.8" cy="1052.5" r="1.85" fill="#000"/>
<circle cx="1671.2" cy="1039.5" r="1.85" fill="#000"/>
<circle cx="1674.8" cy="1023.6" r="1.85" fill="#000"/>
<circle cx="1671.1" cy="1061.5" r="1.85" fill="#000"/>
<circle cx="1670.8" cy="1071.7" r="1.85" fill="#000"/>
<circle cx="1685.6" cy="993.4" r="1.85" fill="#000"/>
<circle cx="1674.2" cy="1061.8" r="1.85" fill="#000"/>
<circle cx="1671.6" cy="1016.0" r="1.85" fill="#000"/>
<circle cx="1685.1" cy="1008.6" r="1.85" fill="#000"/>
<circle cx="1683.0" cy="1079.4" r="1.85" fill="#000"/>
<circle cx="1674.9" cy="1108.3" r="1.85" fill="#000"/>
<circle cx="1678.6" cy="1070.6" r="1.85" fill="#000"/>
<circle cx="1687.0" cy="1045.9" r="1.85" fill="#000"/>
<circle cx="1675.6" cy="1069.7" r="1.85" fill="#000"/>
<circle cx="1679.1" cy="1071.3" r="1.85" fill="#000"/>
<circle cx="1682.6" cy="949.6" r="1.85" fill="#000"/>
<circle cx="1669.0" cy="1032.2" r="1.85" fill="#000"/>
<circle cx="1679.2" cy="1124.4" r="1.85" fill="#000"/>
<circle cx="1674.0" cy="1137.4" r="1.85" fill="#000"/>
<circle cx="1679.8" cy="1038.5" r="1.85" fill="#000"/>
<circle cx="1677.8" cy="1054.1" r="1.85" fill="#000"/>
<circle cx="1680.5" cy="1011.8" r="1.85" fill="#000"/>
<circle cx="1668.1" cy="1039.4" r="1.85" fill="#000"/>
<circle cx="1672.4" cy="1032.0" r="1.85" fill="#000"/>
<circle cx="1679.3" cy="1037.5" r="1.85" fill="#000"/>
<circle cx="1670.7" cy="1087.3" r="1.85" fill="#000"/>
<circle cx="1672.7" cy="1111.2" r="1.85" fill="#000"/>
<circle cx="1684.7" cy="1016.3" r="1.85" fill="#000"/>
<circle cx="1675.7" cy="986.8" r="1.85" fill="#000"/>
<circle cx="1678.8" cy="1007.0" r="1.85" fill="#000"/>
<circle cx="1680.4" cy="1054.7" r="1.85" fill="#000"/>
<circle cx="1672.8" cy="1004.7" r="1.85" fill="#000"/>
<circle cx="1668.9" cy="1097.9" r="1.85" fill="#000"/>
<circle cx="1669.2" cy="1080.3" r="1.85" fill="#000"/>
<circle cx="1668.3" cy="1017.6" r="1.85" fill="#000"/>
<circle cx="1671.9" cy="1039.9" r="1.85" fill="#000"/>
<circle cx="1677.7" cy="1065.6" r="1.85" fill="#000"/>
<circle cx="1674.0" cy="1049.8" r="1.85" fill="#000"/>
<circle cx="1669.0" cy="1078.8" r="1.85" fill="#000"/>
<circle cx="1668.2" cy="1024.1" r="1.85" fill="#000"/>
<circle cx="1682.3" cy="1169.7" r="1.85" fill="#000"/>
<circle cx="1672.4" cy="1060.4" r="1.85" fill="#000"/>
<circle cx="1672.5" cy="1097.6" r="1.85" fill="#000"/>
<circle cx="1681.3" cy="1088.9" r="1.85" fill="#000"/>
<circle cx="1681.6" cy="938.6" r="1.85" fill="#000"/>
<circle cx="1683.1" cy="1094.5" r="1.85" fill="#000"/>
<circle cx="1673.1" cy="1071.1" r="1.85" fill="#000"/>
<circle cx="1684.8" cy="1033.9" r="1.85" fill="#000"/>
<circle cx="1673.0" cy="1063.8" r="1.85" fill="#000"/>
<circle cx="1682.3" cy="1061.7" r="1.85" fill="#000"/>
<circle cx="1684.8" cy="1144.4" r="1.85" fill="#000"/>
<circle cx="1680.1" cy="1053.1" r="1.85" fill="#000"/>
<circle cx="1680.7" cy="980.5" r="1.85" fill="#000"/>
<circle cx="1684.4" cy="1045.3" r="1.85" fill="#000"/>
<circle cx="1673.9" cy="1065.8" r="1.85" fill="#000"/>
<circle cx="1679.9" cy="1104.3" r="1.85" fill="#000"/>
<circle cx="1668.6" cy="1041.4" r="1.85" fill="#000"/>
<circle cx="1685.8" cy="1069.0" r="1.85" fill="#000"/>
<circle cx="1668.9" cy="1052.9" r="1.85" fill="#000"/>
<circle cx="1680.1" cy="1051.7" r="1.85" fill="#000"/>
<circle cx="1679.3" cy="1059.5" r="1.85" fill="#000"/>
<circle cx="1683.6" cy="1071.5" r="1.85" fill="#000"/>
<circle cx="1684.6" cy="1027.2" r="1.85" fill="#000"/>
<circle cx="1686.0" cy="1067.5" r="1.85" fill="#000"/>
<circle cx="1668.8" cy="1053.6" r="1.85" fill="#000"/>
<circle cx="1782.1" cy="1060.7" r="1.85" fill="#000"/>
<circle cx="1780.4" cy="1080.6" r="1.85" fill="#000"/>
<circle cx="1772.9" cy="1095.0" r="1.85" fill="#000"/>
<circle cx="1779.6" cy="1099.5" r="1.85" fill="#000"/>
<circle cx="1773.4" cy="1107.9" r="1.85" fill="#000"/>
<circle cx="1778.4" cy="1110.1" r="1.85" fill="#000"/>
<circle cx="1764.1" cy="1112.2" r="1.85" fill="#000"/>
<circle cx="1766.6" cy="1112.7" r="1.85" fill="#000"/>
<circle cx="1768.3" cy="1112.2" r="1.85" fill="#000"/>
<circle cx="1781.3" cy="1116.7" r="1.85" fill="#000"/>
<circle cx="1779.3" cy="1120.1" r="1.85" fill="#000"/>
<circle cx="1769.6" cy="1127.3" r="1.85" fill="#000"/>
<circle cx="1780.9" cy="1127.3" r="1.85" fill="#000"/>
<circle cx="1770.0" cy="1132.9" r="1.85" fill="#000"/>
<circle cx="1775.9" cy="1132.4" r="1.85" fill="#000"/>
<circle cx="1775.6" cy="1137.5" r="1.85" fill="#000"/>
<circle cx="1763.7" cy="1147.1" r="1.85" fill="#000"/>
<circle cx="1780.1" cy="1147.6" r="1.85" fill="#000"/>
<circle cx="1767.1" cy="1149.8" r="1.85" fill="#000"/>
<circle cx="1764.6" cy="1158.5" r="1.85" fill="#000"/>
<circle cx="1777.9" cy="1162.8" r="1.85" fill="#000"/>
<circle cx="1765.4" cy="1166.1" r="1.85" fill="#000"/>
<circle cx="1768.3" cy="1167.8" r="1.85" fill="#000"/>
<circle cx="1773.9" cy="1166.1" r="1.85" fill="#000"/>
<text x="1382.3" y="848.6" font-family='"Liberation Sans", Arial, sans-serif' font-weight="700" font-size="57.5" fill="#000">D</text>
</svg></body></html>
